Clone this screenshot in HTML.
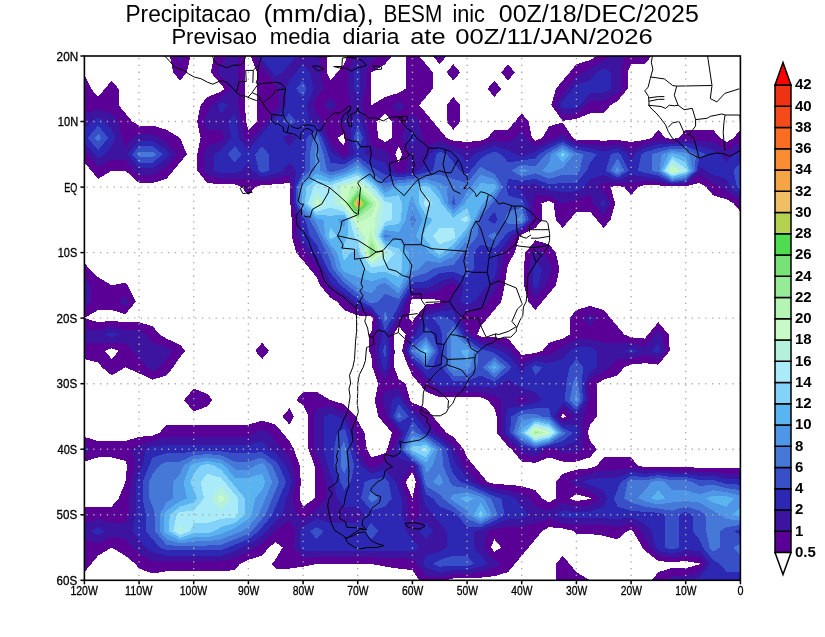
<!DOCTYPE html>
<html><head><meta charset="utf-8"><title>Precipitacao BESM</title>
<style>
html,body{margin:0;padding:0;background:#fff;}
body{width:825px;height:637px;overflow:hidden;}
svg{display:block;}
text{font-family:"Liberation Sans",Arial,sans-serif;}
</style></head><body>
<svg width="825" height="637" viewBox="0 0 825 637">
<rect x="0" y="0" width="825" height="637" fill="#fff"/>

<text x="125.40" y="21.50" font-size="23.55" textLength="125.20" lengthAdjust="spacingAndGlyphs">Precipitacao</text>
<text x="263.40" y="21.50" font-size="23.55" textLength="110.40" lengthAdjust="spacingAndGlyphs">(mm/dia),</text>
<text x="383.40" y="21.50" font-size="23.55" textLength="58.80" lengthAdjust="spacingAndGlyphs">BESM</text>
<text x="452.40" y="21.50" font-size="23.55" textLength="32.60" lengthAdjust="spacingAndGlyphs">inic</text>
<text x="498.80" y="21.50" font-size="23.55" textLength="200.00" lengthAdjust="spacingAndGlyphs">00Z/18/DEC/2025</text>
<text x="171.40" y="43.60" font-size="22.53" textLength="85.60" lengthAdjust="spacingAndGlyphs">Previsao</text>
<text x="269.80" y="43.60" font-size="22.53" textLength="60.20" lengthAdjust="spacingAndGlyphs">media</text>
<text x="342.60" y="43.60" font-size="22.53" textLength="56.80" lengthAdjust="spacingAndGlyphs">diaria</text>
<text x="410.20" y="43.60" font-size="22.53" textLength="35.40" lengthAdjust="spacingAndGlyphs">ate</text>
<text x="455.20" y="43.60" font-size="22.53" textLength="197.60" lengthAdjust="spacingAndGlyphs">00Z/11/JAN/2026</text>
<text x="70.40" y="595.10" font-size="12.21" stroke="#000" stroke-width="0.3" textLength="27.40" lengthAdjust="spacingAndGlyphs">120W</text>
<text x="125.07" y="595.10" font-size="12.21" stroke="#000" stroke-width="0.3" textLength="27.40" lengthAdjust="spacingAndGlyphs">110W</text>
<text x="179.73" y="595.10" font-size="12.21" stroke="#000" stroke-width="0.3" textLength="27.40" lengthAdjust="spacingAndGlyphs">100W</text>
<text x="238.00" y="595.10" font-size="12.21" stroke="#000" stroke-width="0.3" textLength="21.20" lengthAdjust="spacingAndGlyphs">90W</text>
<text x="292.67" y="595.10" font-size="12.21" stroke="#000" stroke-width="0.3" textLength="21.20" lengthAdjust="spacingAndGlyphs">80W</text>
<text x="347.33" y="595.10" font-size="12.21" stroke="#000" stroke-width="0.3" textLength="21.20" lengthAdjust="spacingAndGlyphs">70W</text>
<text x="402.00" y="595.10" font-size="12.21" stroke="#000" stroke-width="0.3" textLength="21.20" lengthAdjust="spacingAndGlyphs">60W</text>
<text x="456.67" y="595.10" font-size="12.21" stroke="#000" stroke-width="0.3" textLength="21.20" lengthAdjust="spacingAndGlyphs">50W</text>
<text x="511.33" y="595.10" font-size="12.21" stroke="#000" stroke-width="0.3" textLength="21.20" lengthAdjust="spacingAndGlyphs">40W</text>
<text x="566.00" y="595.10" font-size="12.21" stroke="#000" stroke-width="0.3" textLength="21.20" lengthAdjust="spacingAndGlyphs">30W</text>
<text x="620.67" y="595.10" font-size="12.21" stroke="#000" stroke-width="0.3" textLength="21.20" lengthAdjust="spacingAndGlyphs">20W</text>
<text x="675.33" y="595.10" font-size="12.21" stroke="#000" stroke-width="0.3" textLength="21.20" lengthAdjust="spacingAndGlyphs">10W</text>
<text x="737.60" y="595.10" font-size="12.21" stroke="#000" stroke-width="0.3" textLength="6.00" lengthAdjust="spacingAndGlyphs">0</text>
<text x="56.60" y="60.55" font-size="12.06" stroke="#000" stroke-width="0.3" textLength="21.60" lengthAdjust="spacingAndGlyphs">20N</text>
<text x="57.80" y="126.09" font-size="12.06" stroke="#000" stroke-width="0.3" textLength="20.40" lengthAdjust="spacingAndGlyphs">10N</text>
<text x="64.20" y="191.62" font-size="12.06" stroke="#000" stroke-width="0.3" textLength="13.00" lengthAdjust="spacingAndGlyphs">EQ</text>
<text x="57.80" y="257.16" font-size="12.06" stroke="#000" stroke-width="0.3" textLength="19.40" lengthAdjust="spacingAndGlyphs">10S</text>
<text x="56.60" y="322.70" font-size="12.06" stroke="#000" stroke-width="0.3" textLength="20.60" lengthAdjust="spacingAndGlyphs">20S</text>
<text x="56.60" y="388.24" font-size="12.06" stroke="#000" stroke-width="0.3" textLength="20.60" lengthAdjust="spacingAndGlyphs">30S</text>
<text x="57.60" y="453.77" font-size="12.06" stroke="#000" stroke-width="0.3" textLength="19.60" lengthAdjust="spacingAndGlyphs">40S</text>
<text x="56.60" y="519.31" font-size="12.06" stroke="#000" stroke-width="0.3" textLength="20.60" lengthAdjust="spacingAndGlyphs">50S</text>
<text x="56.60" y="584.85" font-size="12.06" stroke="#000" stroke-width="0.3" textLength="20.60" lengthAdjust="spacingAndGlyphs">60S</text>
<defs><clipPath id="mc"><rect x="84.4" y="56.0" width="656.0" height="524.3"/></clipPath></defs>
<g clip-path="url(#mc)" shape-rendering="crispEdges">
<path fill="#5a0096" d="M180.1 64.2L183.5 56.0L190.3 56.0L186.9 72.4L180.1 80.6L173.2 72.4L169.8 56.0L176.7 56.0ZM221.1 56.0L227.9 56.0L221.1 64.2L217.7 72.4L221.1 76.5L231.3 88.8L221.1 97.0L210.8 105.2L207.4 113.3L204.0 121.5L207.4 129.7L221.1 129.7L224.5 137.9L221.1 142.0L207.4 146.1L204.0 154.3L204.0 170.7L207.4 174.8L221.1 178.9L234.7 178.9L248.4 178.9L262.1 180.9L275.7 178.9L289.4 174.8L292.3 187.1L292.3 203.5L296.2 219.8L296.2 236.2L303.1 248.5L306.5 252.6L316.7 264.9L319.0 269.0L327.0 285.4L330.4 289.5L344.1 299.0L347.5 301.8L357.7 310.0L371.4 313.2L375.5 318.1L376.5 334.5L375.0 350.9L377.5 367.3L385.1 379.6L390.5 367.3L391.9 350.9L390.2 334.5L398.7 320.9L402.1 318.1L407.3 301.8L412.4 293.6L426.1 293.6L439.7 290.2L446.6 285.4L453.4 282.7L456.8 285.4L453.4 293.6L449.4 301.8L439.7 307.1L426.1 310.0L419.2 318.1L412.4 330.4L410.1 334.5L404.4 350.9L412.4 365.3L414.7 367.3L426.1 381.0L429.5 383.7L439.7 391.9L453.4 391.9L467.1 391.9L480.7 391.9L494.4 396.0L501.2 400.1L501.2 416.5L501.2 432.8L508.1 441.0L518.3 449.2L521.7 453.3L535.4 457.4L545.7 449.2L549.1 448.4L555.9 449.2L562.7 453.3L576.4 453.3L583.2 449.2L583.2 432.8L583.2 416.5L588.7 400.1L588.4 383.7L590.1 379.6L603.7 371.4L610.6 367.3L617.4 359.1L631.1 359.1L644.7 355.0L658.4 359.1L665.2 350.9L661.8 334.5L658.4 330.4L655.0 334.5L644.7 346.8L631.1 342.7L617.4 342.7L603.7 342.7L590.1 338.6L576.4 338.6L562.7 346.8L555.9 350.9L549.1 355.0L535.4 357.1L521.7 363.2L511.5 350.9L508.1 346.8L494.4 342.7L480.7 340.7L470.5 334.5L467.1 329.1L461.6 318.1L467.1 311.6L480.7 310.0L487.6 301.8L494.4 293.6L497.8 285.4L502.0 269.0L504.7 252.6L508.1 248.5L514.9 236.2L521.7 232.1L534.0 219.8L532.8 203.5L535.4 194.5L549.1 195.3L562.7 203.5L576.4 199.4L590.1 195.3L593.5 203.5L603.7 215.7L610.6 203.5L603.7 191.2L596.9 187.1L603.7 183.0L617.4 183.0L631.1 183.0L644.7 180.9L658.4 182.2L672.1 185.0L685.7 184.3L699.4 174.8L713.1 183.0L719.9 187.1L726.7 191.2L740.4 200.7L740.4 203.5L740.4 211.7L733.6 203.5L726.7 199.4L713.1 195.3L706.2 187.1L699.4 183.0L685.7 186.2L672.1 186.4L658.4 185.4L644.7 185.0L637.9 187.1L631.1 195.3L624.2 187.1L617.4 185.7L610.6 187.1L615.1 203.5L610.6 219.8L603.7 228.0L596.9 219.8L590.1 211.7L576.4 211.7L569.6 219.8L562.7 228.0L555.9 219.8L553.6 203.5L549.1 200.7L541.5 203.5L542.2 219.8L535.4 228.0L521.7 234.9L519.5 236.2L514.9 252.6L508.1 264.3L507.1 269.0L504.7 285.4L501.2 301.8L494.4 310.0L487.6 318.1L480.7 326.3L477.3 334.5L480.7 336.6L494.4 337.3L508.1 338.6L518.3 350.9L521.7 355.0L535.4 353.0L542.2 350.9L549.1 342.7L562.7 338.6L569.6 334.5L569.6 318.1L576.4 310.0L590.1 305.9L603.7 310.0L610.6 318.1L617.4 326.3L624.2 334.5L631.1 337.3L644.7 338.6L648.1 334.5L658.4 322.2L668.6 334.5L669.8 350.9L658.4 364.6L644.7 363.2L631.1 364.6L624.2 367.3L617.4 375.5L603.7 379.6L596.9 383.7L596.9 400.1L596.9 416.5L590.1 424.6L587.8 432.8L590.1 441.0L596.9 449.2L590.1 457.4L576.4 461.5L562.7 461.5L549.1 457.4L535.4 462.9L521.7 461.5L511.5 449.2L508.1 446.5L496.7 432.8L496.7 416.5L494.4 408.3L487.6 400.1L480.7 397.3L467.1 397.3L453.4 397.3L439.7 397.3L426.1 391.9L419.2 383.7L412.4 375.5L408.6 367.3L402.1 350.9L405.6 334.5L398.7 326.3L393.6 334.5L394.6 350.9L394.1 367.3L398.7 379.1L405.6 383.7L410.1 400.1L412.4 402.8L426.1 408.3L432.9 416.5L439.7 424.6L446.6 432.8L453.4 436.9L463.7 449.2L467.1 457.4L473.9 465.6L480.7 473.8L487.6 482.0L494.4 484.0L508.1 484.7L521.7 486.1L535.4 490.2L542.2 498.4L549.1 502.5L555.9 498.4L555.9 482.0L562.7 473.8L576.4 469.7L590.1 468.3L596.9 465.6L603.7 457.4L617.4 457.4L631.1 457.4L637.9 465.6L644.7 467.2L658.4 467.0L672.1 467.2L685.7 467.2L699.4 467.7L713.1 467.7L726.7 468.3L740.4 468.3L740.4 473.8L726.7 473.8L713.1 471.8L699.4 471.8L685.7 470.5L672.1 470.5L658.4 469.7L644.7 470.5L631.1 467.7L617.4 469.7L603.7 469.7L590.1 473.8L576.4 477.9L569.6 482.0L576.4 486.1L590.1 491.4L599.5 498.4L590.1 505.3L576.4 506.6L562.7 502.5L549.1 510.7L535.4 506.6L528.6 498.4L521.7 494.3L508.1 490.2L494.4 488.1L480.7 483.6L477.3 482.0L467.1 469.7L463.7 465.6L456.8 449.2L453.4 445.1L439.7 434.9L436.3 432.8L426.1 420.6L422.7 416.5L412.4 408.3L405.6 400.1L398.7 387.8L385.1 391.9L381.7 400.1L385.1 408.3L386.8 416.5L398.7 430.8L400.4 432.8L398.7 436.9L391.9 449.2L385.1 461.5L378.2 465.6L371.4 468.3L368.0 465.6L357.7 449.2L357.7 449.2L355.5 432.8L348.1 416.5L344.1 412.4L330.4 406.6L316.7 408.3L314.0 416.5L313.8 432.8L314.0 449.2L316.7 455.1L321.9 465.6L325.5 482.0L325.5 498.4L316.7 508.9L309.9 514.8L303.1 518.9L296.2 514.8L292.8 498.4L296.2 482.0L292.8 465.6L289.4 457.4L282.6 449.2L275.7 441.0L268.9 432.8L262.1 428.7L255.2 432.8L248.4 436.9L234.7 436.9L221.1 436.9L207.4 436.9L193.7 436.9L180.1 436.9L166.4 436.9L152.7 441.0L139.1 445.1L132.2 449.2L135.0 465.6L130.9 482.0L128.8 498.4L128.8 514.8L125.4 523.0L111.7 523.0L98.1 518.9L84.4 523.0L84.4 514.8L84.4 506.6L98.1 506.6L111.7 506.6L118.6 498.4L125.4 482.0L125.4 482.0L127.0 465.6L125.4 460.9L111.7 457.4L98.1 457.4L84.4 461.5L84.4 453.3L91.2 449.2L84.4 445.1L84.4 436.9L98.1 441.0L111.7 441.0L125.4 441.0L139.1 436.9L152.7 435.6L159.6 432.8L166.4 424.6L180.1 424.6L193.7 424.6L207.4 424.6L221.1 424.6L234.7 424.6L248.4 424.6L262.1 420.6L275.7 424.6L282.6 432.8L289.4 441.0L294.0 449.2L299.6 465.6L300.8 482.0L299.6 498.4L303.1 506.6L314.5 498.4L314.5 482.0L314.5 465.6L308.5 449.2L307.8 432.8L308.5 416.5L303.1 405.5L296.2 400.1L303.1 391.9L316.7 391.9L330.4 400.1L330.4 400.1L344.1 404.2L356.1 416.5L357.7 421.1L364.6 432.8L366.8 449.2L371.4 457.4L385.1 453.3L387.3 449.2L391.9 432.8L385.1 424.6L378.2 416.5L374.8 400.1L378.2 383.7L372.4 367.3L371.4 356.4L369.1 350.9L369.1 334.5L371.4 331.8L372.8 318.1L371.4 316.5L357.7 315.4L344.1 310.0L337.2 301.8L330.4 297.7L320.1 285.4L316.7 277.2L309.9 269.0L303.1 260.8L296.2 252.6L291.7 236.2L291.7 219.8L290.4 203.5L290.4 187.1L289.4 183.0L275.7 184.3L262.1 185.0L255.2 187.1L248.4 195.3L241.6 187.1L234.7 184.3L221.1 184.3L207.4 183.0L197.2 170.7L197.2 154.3L200.6 137.9L197.2 121.5L200.6 105.2L207.4 97.0L221.1 91.5L224.5 88.8L221.1 84.7L210.8 72.4L214.2 56.0ZM410.7 301.8L409.0 318.1L412.4 322.2L414.7 318.1L426.1 304.5L439.7 302.7L441.3 301.8L439.7 299.8L426.1 299.0L412.4 299.0ZM467.1 318.1L467.1 318.1L467.1 318.1L467.1 318.1ZM583.2 318.1L590.1 326.3L596.9 318.1L590.1 314.1ZM569.6 498.4L576.4 501.1L590.1 499.0L590.9 498.4L590.1 497.7L576.4 494.3ZM245.0 72.4L245.0 88.8L245.0 105.2L246.1 121.5L248.4 129.7L256.9 121.5L256.9 105.2L256.9 88.8L256.9 72.4L250.7 56.0L255.2 56.0L262.1 67.2L266.4 72.4L275.7 84.7L279.1 88.8L279.1 105.2L275.7 109.2L266.4 121.5L262.1 126.8L251.8 137.9L248.4 142.0L245.0 137.9L241.6 121.5L238.2 105.2L238.2 88.8L238.2 72.4L238.2 56.0L245.0 56.0ZM327.0 72.4L330.4 80.6L337.2 72.4L344.1 64.2L347.5 56.0L354.3 56.0L347.5 72.4L347.5 88.8L350.9 105.2L344.1 113.3L338.4 121.5L344.1 125.6L348.2 137.9L347.5 154.3L344.1 156.4L340.7 154.3L330.4 142.0L328.7 137.9L322.4 121.5L316.7 113.3L313.3 105.2L316.7 97.0L323.6 88.8L320.1 72.4L320.1 56.0L327.0 56.0ZM323.6 105.2L330.4 112.0L337.2 105.2L330.4 97.0ZM337.2 137.9L344.1 146.1L345.4 137.9L344.1 133.8ZM371.4 61.5L378.2 56.0L385.1 56.0L391.9 56.0L385.1 64.2L371.4 72.4L371.4 72.4L370.9 88.8L371.4 105.2L371.4 105.2L371.4 105.2L385.1 97.0L398.7 92.9L405.6 88.8L405.6 72.4L405.6 56.0L412.4 56.0L419.2 56.0L426.1 64.2L432.9 72.4L432.9 88.8L426.1 97.0L419.2 105.2L426.1 113.3L432.9 121.5L439.7 129.7L446.6 137.9L453.4 140.7L467.1 142.0L480.7 140.7L487.6 137.9L494.4 129.7L508.1 129.7L514.9 121.5L521.7 113.3L528.6 121.5L532.0 137.9L535.4 140.7L542.2 137.9L549.1 126.2L562.7 122.6L573.0 137.9L576.4 139.6L590.1 140.0L603.7 140.7L617.4 140.0L631.1 142.0L644.7 140.0L651.6 137.9L658.4 129.7L665.2 137.9L672.1 139.1L678.9 137.9L685.7 129.7L699.4 129.7L713.1 129.7L719.9 137.9L726.7 142.0L733.6 137.9L740.4 129.7L740.4 137.9L740.4 142.0L726.7 150.2L713.1 142.0L699.4 140.7L685.7 139.6L672.1 141.4L658.4 140.0L644.7 144.1L631.1 150.2L617.4 144.1L603.7 146.1L590.1 144.1L576.4 142.8L566.1 137.9L562.7 132.8L555.9 137.9L549.1 140.0L535.4 146.1L525.1 137.9L521.7 129.7L514.9 137.9L508.1 142.0L494.4 140.7L480.7 146.1L467.1 150.2L453.4 146.1L439.7 140.7L426.1 146.1L422.7 137.9L419.2 121.5L412.4 113.3L405.6 121.5L402.1 137.9L409.0 154.3L405.6 170.7L398.7 172.1L395.3 170.7L388.5 154.3L385.1 150.2L371.4 146.1L369.7 137.9L367.1 121.5L362.3 105.2L365.6 88.8L365.9 72.4ZM391.9 105.2L398.7 113.3L405.6 105.2L398.7 101.1ZM376.5 121.5L378.2 137.9L385.1 142.0L391.9 137.9L391.9 121.5L385.1 113.3ZM395.3 154.3L398.7 162.5L402.1 154.3L398.7 146.1ZM439.7 56.0L446.6 56.0L439.7 64.2L432.9 56.0ZM453.4 64.2L460.2 72.4L453.4 80.6L446.6 72.4ZM508.1 64.2L514.9 72.4L508.1 80.6L501.2 72.4ZM576.4 64.2L590.1 60.1L596.9 56.0L603.7 56.0L610.6 56.0L603.7 60.1L590.1 68.3L583.2 72.4L576.4 76.5L566.1 88.8L562.7 92.9L555.9 105.2L562.7 114.6L576.4 113.3L586.7 105.2L590.1 101.1L603.7 101.1L617.4 92.9L620.8 88.8L620.8 72.4L624.2 56.0L631.1 56.0L644.7 56.0L651.6 56.0L644.7 64.2L631.1 64.2L627.6 72.4L627.6 88.8L617.4 101.1L610.6 105.2L603.7 113.3L590.1 113.3L576.4 118.8L562.7 120.9L551.3 105.2L555.9 88.8L562.7 80.6L569.6 72.4ZM91.2 88.8L98.1 97.0L104.9 88.8L111.7 80.6L118.6 88.8L118.6 105.2L125.4 113.3L132.2 121.5L139.1 125.6L152.7 125.6L166.4 129.7L180.1 137.9L180.1 137.9L186.9 154.3L180.1 162.5L173.2 170.7L166.4 178.9L152.7 183.0L139.1 183.0L125.4 170.7L125.4 170.7L111.7 170.7L111.7 170.7L98.1 178.9L91.2 170.7L84.4 162.5L84.4 154.3L84.4 150.2L87.8 154.3L98.1 166.6L111.7 159.8L125.4 159.8L134.5 170.7L139.1 174.8L152.7 174.8L159.6 170.7L166.4 166.6L176.7 154.3L166.4 142.0L159.6 137.9L152.7 133.8L139.1 133.8L132.2 137.9L125.4 146.1L122.0 137.9L118.6 121.5L111.7 113.3L98.1 109.2L84.4 113.3L84.4 105.2L84.4 88.8L84.4 75.1ZM494.4 80.6L501.2 88.8L494.4 97.0L487.6 88.8ZM453.4 97.0L460.2 105.2L460.2 121.5L453.4 129.7L446.6 121.5L446.6 105.2ZM535.4 240.3L549.1 244.4L555.9 252.6L559.3 269.0L555.9 285.4L549.1 293.6L542.2 301.8L535.4 310.0L528.6 301.8L524.0 285.4L524.0 269.0L525.1 252.6ZM532.0 252.6L528.6 269.0L528.6 285.4L535.4 297.7L545.7 285.4L549.1 277.2L552.5 269.0L549.1 260.8L542.2 252.6L535.4 248.5ZM89.5 269.0L98.1 277.2L111.7 285.4L111.7 285.4L111.7 285.4L125.4 282.7L127.7 285.4L135.7 301.8L125.4 314.1L111.7 310.0L98.1 310.0L84.4 318.1L84.4 307.2L91.2 301.8L91.2 285.4L84.4 278.6L84.4 269.0L84.4 262.9ZM118.6 301.8L125.4 305.9L128.8 301.8L125.4 295.9ZM98.1 322.2L111.7 320.9L125.4 322.2L139.1 322.2L152.7 326.3L159.6 334.5L166.4 338.6L180.1 344.8L185.2 350.9L180.1 357.1L173.2 367.3L166.4 375.5L152.7 379.6L139.1 373.4L125.4 367.3L125.4 367.3L125.4 367.3L111.7 375.5L102.0 367.3L98.1 362.6L84.4 359.1L84.4 350.9L84.4 342.7L98.1 342.7L111.7 342.7L125.4 342.7L132.2 350.9L139.1 357.7L147.0 367.3L152.7 371.4L159.6 367.3L166.4 359.1L172.1 350.9L166.4 346.8L152.7 342.7L145.9 334.5L139.1 330.4L125.4 330.4L111.7 326.3L98.1 330.4L84.4 329.1L84.4 318.1ZM104.9 350.9L111.7 359.1L118.6 350.9L111.7 348.2ZM262.1 342.7L268.9 350.9L262.1 359.1L255.2 350.9ZM193.7 388.5L207.4 393.9L212.5 400.1L207.4 406.2L193.7 411.6L184.1 400.1ZM192.1 400.1L193.7 402.0L196.8 400.1L193.7 398.1ZM521.7 396.0L528.6 400.1L521.7 402.1L514.9 400.1ZM289.4 408.3L294.0 416.5L289.4 424.6L282.6 416.5ZM562.7 408.3L573.0 416.5L562.7 421.4L557.6 416.5ZM561.0 416.5L562.7 418.1L566.1 416.5L562.7 413.7ZM412.4 465.6L412.4 465.6L418.1 482.0L417.9 498.4L419.2 514.8L412.4 523.0L409.0 514.8L406.9 498.4L401.0 482.0L412.4 465.6ZM405.6 482.0L412.4 498.4L412.4 498.4L412.4 498.4L415.8 482.0L412.4 472.2ZM275.7 531.1L289.4 520.2L294.9 531.1L292.8 547.5L303.1 557.8L316.7 557.4L330.4 557.4L344.1 557.4L357.7 557.4L371.4 557.4L385.1 557.8L398.7 558.2L412.4 558.7L416.7 563.9L426.1 576.2L439.7 577.6L453.4 574.2L467.1 574.2L480.7 572.1L494.4 568.0L501.2 563.9L494.4 559.8L484.1 547.5L487.6 531.1L494.4 529.1L508.1 527.1L521.7 527.1L535.4 523.0L549.1 518.9L562.7 523.0L576.4 525.0L590.1 525.0L603.7 525.4L617.4 527.1L631.1 523.9L640.7 531.1L644.7 537.0L649.9 547.5L658.4 555.7L672.1 557.8L685.7 555.7L699.4 557.0L705.2 563.9L699.4 570.8L685.7 576.2L672.1 576.2L665.2 580.3L658.4 580.3L651.6 580.3L658.4 572.1L672.1 568.0L685.7 568.0L699.4 564.5L699.9 563.9L699.4 563.3L685.7 561.2L672.1 561.9L658.4 561.2L644.7 550.3L642.5 547.5L632.7 531.1L631.1 529.9L627.2 531.1L617.4 539.3L603.7 535.8L590.1 533.9L576.4 533.9L574.1 531.1L562.7 528.4L549.1 527.1L542.2 531.1L535.4 539.3L528.6 547.5L521.7 555.7L514.9 563.9L508.1 572.1L494.4 576.2L480.7 577.6L467.1 578.3L453.4 578.3L446.6 580.3L439.7 580.3L426.1 580.3L419.2 580.3L412.4 570.1L398.7 568.6L385.1 566.6L371.4 563.9L371.4 563.9L357.7 563.9L344.1 563.9L330.4 563.9L316.7 563.9L316.7 563.9L303.1 566.6L289.4 568.6L275.7 568.6L271.8 563.9L275.7 559.2L282.6 547.5L275.7 542.1L268.9 547.5L262.1 555.7L248.4 559.8L239.9 563.9L234.7 570.1L221.1 571.2L207.4 571.2L193.7 571.2L180.1 571.2L166.4 571.2L152.7 573.5L139.1 568.6L135.2 563.9L125.4 555.7L111.7 547.5L111.7 547.5L111.7 547.5L98.1 555.7L91.2 563.9L84.4 572.1L84.4 563.9L84.4 547.5L84.4 539.3L98.1 543.4L111.7 536.6L125.4 539.3L132.2 547.5L139.1 553.8L152.7 561.2L166.4 560.7L180.1 560.7L193.7 560.7L207.4 560.7L221.1 560.7L234.7 558.7L248.4 551.6L255.2 547.5L262.1 543.4L275.7 531.1ZM289.4 531.1L289.4 531.1L289.4 531.1L289.4 531.1ZM491.0 547.5L494.4 551.6L501.2 547.5L494.4 539.3ZM562.7 555.7L569.6 563.9L576.4 572.1L590.1 580.3L576.4 580.3L562.7 580.3L555.9 580.3L555.9 563.9Z"/>
<path fill="#3c14a0" d="M180.1 56.0L183.5 56.0L180.1 64.2L176.7 56.0ZM221.1 64.2L227.9 56.0L234.7 56.0L238.2 56.0L238.2 72.4L238.2 88.8L238.2 105.2L241.6 121.5L245.0 137.9L248.4 142.0L251.8 137.9L262.1 126.8L266.4 121.5L275.7 109.2L279.1 105.2L279.1 88.8L275.7 84.7L266.4 72.4L262.1 67.2L255.2 56.0L259.8 56.0L262.1 59.7L272.6 72.4L275.7 76.5L282.6 72.4L289.4 64.2L296.2 56.0L303.1 56.0L316.7 56.0L320.1 56.0L320.1 72.4L323.6 88.8L316.7 97.0L313.3 105.2L316.7 113.3L322.4 121.5L328.7 137.9L330.4 142.0L340.7 154.3L344.1 156.4L347.5 154.3L348.2 137.9L344.1 125.6L338.4 121.5L344.1 113.3L350.9 105.2L347.5 88.8L347.5 72.4L354.3 56.0L357.7 56.0L371.4 56.0L378.2 56.0L371.4 61.5L365.9 72.4L365.6 88.8L362.3 105.2L367.1 121.5L369.7 137.9L371.4 146.1L385.1 150.2L388.5 154.3L395.3 170.7L398.7 172.1L405.6 170.7L409.0 154.3L402.1 137.9L405.6 121.5L412.4 113.3L419.2 121.5L422.7 137.9L426.1 146.1L439.7 140.7L453.4 146.1L467.1 150.2L480.7 146.1L494.4 140.7L508.1 142.0L514.9 137.9L521.7 129.7L525.1 137.9L535.4 146.1L549.1 140.0L555.9 137.9L562.7 132.8L566.1 137.9L576.4 142.8L590.1 144.1L603.7 146.1L617.4 144.1L631.1 150.2L644.7 144.1L658.4 140.0L672.1 141.4L685.7 139.6L699.4 140.7L713.1 142.0L726.7 150.2L740.4 142.0L740.4 150.2L733.6 154.3L726.7 162.5L719.9 154.3L713.1 150.2L699.4 146.1L685.7 142.8L672.1 143.8L658.4 144.1L644.7 148.2L634.5 154.3L631.1 162.5L627.6 154.3L617.4 148.2L603.7 151.6L590.1 148.2L576.4 146.1L562.7 139.3L549.1 144.1L535.4 151.6L528.6 154.3L521.7 156.4L514.9 154.3L508.1 150.2L494.4 146.1L480.7 151.6L473.9 154.3L467.1 162.5L460.2 154.3L453.4 151.6L439.7 146.1L429.5 154.3L426.1 162.5L419.2 170.7L412.4 172.3L398.7 174.8L388.5 170.7L385.1 162.5L371.4 158.4L364.6 154.3L366.3 137.9L360.8 121.5L357.7 113.3L350.9 121.5L350.9 137.9L354.3 154.3L344.1 160.5L333.8 154.3L330.4 150.2L325.3 137.9L316.7 124.3L309.9 121.5L306.5 105.2L313.3 88.8L309.9 72.4L303.1 64.2L296.2 72.4L289.4 80.6L286.0 88.8L286.0 105.2L275.7 117.4L272.6 121.5L262.1 134.2L258.7 137.9L248.4 150.2L238.2 137.9L237.0 121.5L234.7 113.3L227.9 121.5L231.3 137.9L221.1 150.2L214.2 154.3L214.2 170.7L221.1 173.4L234.7 173.4L241.6 170.7L248.4 162.5L251.8 170.7L262.1 176.8L275.7 173.4L282.6 170.7L289.4 162.5L296.2 170.7L294.3 187.1L294.3 203.5L300.8 219.8L300.8 236.2L303.1 240.3L313.3 252.6L316.7 256.7L323.6 269.0L330.4 281.3L333.8 285.4L344.1 293.6L354.3 301.8L357.7 304.5L371.4 310.0L378.2 318.1L382.2 334.5L379.0 350.9L382.5 367.3L385.1 371.4L386.9 367.3L389.2 350.9L386.8 334.5L396.5 318.1L398.7 314.1L403.9 301.8L412.4 288.1L426.1 288.1L432.9 285.4L439.7 281.3L453.4 277.2L463.7 285.4L460.2 301.8L467.1 305.0L473.9 301.8L480.7 293.6L487.6 285.4L494.4 277.2L496.9 269.0L497.8 252.6L508.1 240.3L510.3 236.2L521.7 229.4L531.3 219.8L528.3 203.5L521.7 191.2L514.9 187.1L521.7 185.0L535.4 184.3L542.2 187.1L549.1 189.8L562.7 192.5L576.4 191.2L583.2 187.1L590.1 178.9L603.7 174.8L617.4 180.2L631.1 174.8L644.7 176.8L658.4 178.9L672.1 183.7L685.7 182.5L698.4 170.7L699.4 166.6L706.2 170.7L713.1 174.8L726.7 178.9L730.1 187.1L740.4 195.3L740.4 200.7L726.7 191.2L719.9 187.1L713.1 183.0L699.4 174.8L685.7 184.3L672.1 185.0L658.4 182.2L644.7 180.9L631.1 183.0L617.4 183.0L603.7 183.0L596.9 187.1L603.7 191.2L610.6 203.5L603.7 215.7L593.5 203.5L590.1 195.3L576.4 199.4L562.7 203.5L549.1 195.3L535.4 194.5L532.8 203.5L534.0 219.8L521.7 232.1L514.9 236.2L508.1 248.5L504.7 252.6L502.0 269.0L497.8 285.4L494.4 293.6L487.6 301.8L480.7 310.0L467.1 311.6L461.6 318.1L467.1 329.1L470.5 334.5L480.7 340.7L494.4 342.7L508.1 346.8L511.5 350.9L521.7 363.2L535.4 357.1L549.1 355.0L555.9 350.9L562.7 346.8L576.4 338.6L590.1 338.6L603.7 342.7L617.4 342.7L631.1 342.7L644.7 346.8L655.0 334.5L658.4 330.4L661.8 334.5L665.2 350.9L658.4 359.1L644.7 355.0L631.1 359.1L617.4 359.1L610.6 367.3L603.7 371.4L590.1 379.6L588.4 383.7L588.7 400.1L583.2 416.5L583.2 432.8L583.2 449.2L576.4 453.3L562.7 453.3L555.9 449.2L549.1 448.4L545.7 449.2L535.4 457.4L521.7 453.3L518.3 449.2L508.1 441.0L501.2 432.8L501.2 416.5L501.2 400.1L494.4 396.0L480.7 391.9L467.1 391.9L453.4 391.9L439.7 391.9L429.5 383.7L426.1 381.0L414.7 367.3L412.4 365.3L404.4 350.9L410.1 334.5L412.4 330.4L419.2 318.1L426.1 310.0L439.7 307.1L449.4 301.8L453.4 293.6L456.8 285.4L453.4 282.7L446.6 285.4L439.7 290.2L426.1 293.6L412.4 293.6L407.3 301.8L402.1 318.1L398.7 320.9L390.2 334.5L391.9 350.9L390.5 367.3L385.1 379.6L377.5 367.3L375.0 350.9L376.5 334.5L375.5 318.1L371.4 313.2L357.7 310.0L347.5 301.8L344.1 299.0L330.4 289.5L327.0 285.4L319.0 269.0L316.7 264.9L306.5 252.6L303.1 248.5L296.2 236.2L296.2 219.8L292.3 203.5L292.3 187.1L289.4 174.8L275.7 178.9L262.1 180.9L248.4 178.9L234.7 178.9L221.1 178.9L207.4 174.8L204.0 170.7L204.0 154.3L207.4 146.1L221.1 142.0L224.5 137.9L221.1 129.7L207.4 129.7L204.0 121.5L207.4 113.3L210.8 105.2L221.1 97.0L231.3 88.8L221.1 76.5L217.7 72.4ZM354.3 72.4L354.3 88.8L357.7 97.0L360.4 88.8L360.5 72.4L357.7 64.2ZM217.7 105.2L221.1 113.3L227.9 105.2L221.1 102.4ZM409.0 137.9L412.4 146.1L415.8 137.9L412.4 129.7ZM600.3 203.5L603.7 207.6L606.0 203.5L603.7 199.4ZM423.8 318.1L415.8 334.5L412.4 337.3L406.7 350.9L412.4 361.2L419.2 367.3L426.1 375.5L436.3 383.7L439.7 386.4L453.4 386.4L467.1 386.4L480.7 386.4L494.4 387.8L501.2 383.7L508.1 379.6L514.9 383.7L521.7 387.8L535.4 391.9L542.2 400.1L535.4 402.8L521.7 406.2L508.1 408.3L505.8 416.5L505.8 432.8L508.1 435.6L521.7 447.6L528.6 449.2L535.4 452.0L538.8 449.2L549.1 446.8L562.7 446.5L576.4 441.0L578.7 432.8L576.4 424.6L562.7 424.6L554.2 416.5L562.7 402.8L576.4 414.4L586.0 400.1L584.9 383.7L590.1 371.4L596.9 367.3L596.9 350.9L590.1 346.8L576.4 346.8L569.6 350.9L562.7 359.1L549.1 363.2L535.4 361.2L525.1 367.3L521.7 375.5L518.3 367.3L508.1 355.0L501.2 350.9L494.4 348.2L480.7 344.8L467.1 336.2L465.4 334.5L456.1 318.1L453.4 310.0L439.7 311.5L426.1 315.4ZM624.2 350.9L631.1 353.6L637.9 350.9L631.1 348.2ZM651.6 350.9L658.4 353.6L660.7 350.9L658.4 342.7ZM514.9 400.1L521.7 402.1L528.6 400.1L521.7 396.0ZM557.6 416.5L562.7 421.4L573.0 416.5L562.7 408.3ZM590.1 68.3L603.7 60.1L610.6 56.0L617.4 56.0L624.2 56.0L620.8 72.4L620.8 88.8L617.4 92.9L603.7 101.1L590.1 101.1L586.7 105.2L576.4 113.3L562.7 114.6L555.9 105.2L562.7 92.9L566.1 88.8L576.4 76.5L583.2 72.4ZM596.9 72.4L590.1 80.6L576.4 84.7L573.0 88.8L562.7 101.1L560.5 105.2L562.7 108.3L576.4 107.9L579.8 105.2L590.1 92.9L603.7 92.9L610.6 88.8L610.6 72.4L603.7 68.3ZM330.4 97.0L337.2 105.2L330.4 112.0L323.6 105.2ZM398.7 101.1L405.6 105.2L398.7 113.3L391.9 105.2ZM98.1 109.2L111.7 113.3L118.6 121.5L122.0 137.9L125.4 146.1L132.2 137.9L139.1 133.8L152.7 133.8L159.6 137.9L166.4 142.0L176.7 154.3L166.4 166.6L159.6 170.7L152.7 174.8L139.1 174.8L134.5 170.7L125.4 159.8L111.7 159.8L98.1 166.6L87.8 154.3L84.4 150.2L84.4 142.0L94.7 154.3L98.1 158.4L104.9 154.3L111.7 146.1L115.2 137.9L111.7 129.7L104.9 121.5L98.1 117.4L91.2 121.5L84.4 129.7L84.4 121.5L84.4 113.3ZM127.7 154.3L139.1 168.0L152.7 168.0L166.4 158.4L169.8 154.3L166.4 150.2L152.7 140.7L139.1 140.7ZM289.4 133.8L296.2 137.9L289.4 146.1L282.6 137.9ZM535.4 248.5L542.2 252.6L549.1 260.8L552.5 269.0L549.1 277.2L545.7 285.4L535.4 297.7L528.6 285.4L528.6 269.0L532.0 252.6ZM533.1 269.0L533.1 285.4L535.4 289.5L538.8 285.4L542.2 269.0L535.4 260.8ZM91.2 285.4L91.2 301.8L84.4 307.2L84.4 301.8L84.4 285.4L84.4 278.6ZM125.4 295.9L128.8 301.8L125.4 305.9L118.6 301.8ZM590.1 314.1L596.9 318.1L590.1 326.3L583.2 318.1ZM98.1 330.4L111.7 326.3L125.4 330.4L139.1 330.4L145.9 334.5L152.7 342.7L166.4 346.8L172.1 350.9L166.4 359.1L159.6 367.3L152.7 371.4L147.0 367.3L139.1 357.7L132.2 350.9L125.4 342.7L111.7 342.7L98.1 342.7L84.4 342.7L84.4 334.5L84.4 329.1ZM104.9 334.5L111.7 337.3L118.6 334.5L111.7 331.8ZM193.7 398.1L196.8 400.1L193.7 402.0L192.1 400.1ZM385.1 391.9L398.7 387.8L405.6 400.1L412.4 408.3L422.7 416.5L426.1 420.6L436.3 432.8L439.7 434.9L453.4 445.1L456.8 449.2L463.7 465.6L467.1 469.7L477.3 482.0L480.7 483.6L494.4 488.1L508.1 490.2L521.7 494.3L528.6 498.4L535.4 506.6L549.1 510.7L562.7 502.5L576.4 506.6L590.1 505.3L599.5 498.4L590.1 491.4L576.4 486.1L569.6 482.0L576.4 477.9L590.1 473.8L603.7 469.7L617.4 469.7L631.1 467.7L644.7 470.5L658.4 469.7L672.1 470.5L685.7 470.5L699.4 471.8L713.1 471.8L726.7 473.8L740.4 473.8L740.4 479.3L726.7 479.3L713.1 475.8L699.4 475.8L685.7 473.8L672.1 473.8L658.4 472.4L644.7 473.8L631.1 471.8L617.4 477.9L603.7 477.9L590.1 479.3L583.2 482.0L590.1 485.1L603.7 490.2L607.1 498.4L603.7 506.6L590.1 511.6L576.4 512.0L562.7 510.7L555.9 514.8L562.7 517.5L576.4 518.2L590.1 518.2L603.7 518.3L617.4 518.9L631.1 517.8L644.7 523.0L651.6 531.1L655.6 547.5L658.4 550.3L672.1 553.7L685.7 550.3L699.4 550.7L710.4 563.9L699.4 577.1L692.6 580.3L685.7 580.3L672.1 580.3L665.2 580.3L672.1 576.2L685.7 576.2L699.4 570.8L705.2 563.9L699.4 557.0L685.7 555.7L672.1 557.8L658.4 555.7L649.9 547.5L644.7 537.0L640.7 531.1L631.1 523.9L617.4 527.1L603.7 525.4L590.1 525.0L576.4 525.0L562.7 523.0L549.1 518.9L535.4 523.0L521.7 527.1L508.1 527.1L494.4 529.1L487.6 531.1L484.1 547.5L494.4 559.8L501.2 563.9L494.4 568.0L480.7 572.1L467.1 574.2L453.4 574.2L439.7 577.6L426.1 576.2L416.7 563.9L412.4 558.7L398.7 558.2L385.1 557.8L371.4 557.4L357.7 557.4L344.1 557.4L330.4 557.4L316.7 557.4L303.1 557.8L292.8 547.5L294.9 531.1L289.4 520.2L275.7 531.1L275.7 531.1L262.1 543.4L255.2 547.5L248.4 551.6L234.7 558.7L221.1 560.7L207.4 560.7L193.7 560.7L180.1 560.7L166.4 560.7L152.7 561.2L139.1 553.8L132.2 547.5L125.4 539.3L111.7 536.6L98.1 543.4L84.4 539.3L84.4 531.1L84.4 523.0L98.1 518.9L111.7 523.0L125.4 523.0L128.8 514.8L128.8 498.4L130.9 482.0L135.0 465.6L132.2 449.2L139.1 445.1L152.7 441.0L166.4 436.9L180.1 436.9L193.7 436.9L207.4 436.9L221.1 436.9L234.7 436.9L248.4 436.9L255.2 432.8L262.1 428.7L268.9 432.8L275.7 441.0L282.6 449.2L289.4 457.4L292.8 465.6L296.2 482.0L292.8 498.4L296.2 514.8L303.1 518.9L309.9 514.8L316.7 508.9L325.5 498.4L325.5 482.0L321.9 465.6L316.7 455.1L314.0 449.2L313.8 432.8L314.0 416.5L316.7 408.3L330.4 406.6L344.1 412.4L348.1 416.5L355.5 432.8L357.7 449.2L357.7 449.2L368.0 465.6L371.4 468.3L378.2 465.6L385.1 461.5L391.9 449.2L398.7 436.9L400.4 432.8L398.7 430.8L386.8 416.5L385.1 408.3L381.7 400.1ZM391.9 400.1L390.2 416.5L398.7 426.7L403.9 432.8L398.7 445.1L396.5 449.2L398.7 457.4L412.4 463.1L415.4 465.6L420.4 482.0L423.3 498.4L426.1 506.6L432.9 514.8L439.7 523.0L446.6 531.1L446.6 547.5L439.7 551.6L426.1 555.7L423.0 563.9L426.1 568.0L439.7 572.1L453.4 570.1L467.1 570.1L480.7 566.6L487.6 563.9L480.7 555.7L473.9 547.5L473.9 531.1L480.7 529.8L494.4 525.0L508.1 518.9L521.7 518.9L528.6 514.8L521.7 506.6L514.9 498.4L508.1 495.6L494.4 492.2L480.7 486.9L470.5 482.0L467.1 477.9L456.8 465.6L453.4 457.4L451.1 449.2L439.7 439.0L429.5 432.8L426.1 428.7L415.8 416.5L412.4 413.7L401.0 400.1L398.7 396.0ZM323.6 416.5L323.6 432.8L323.6 449.2L327.6 465.6L330.4 473.8L333.8 482.0L337.2 498.4L344.1 506.6L357.7 506.6L364.6 514.8L357.7 523.0L344.1 523.0L330.4 523.0L316.7 518.9L303.1 527.1L300.3 531.1L299.6 547.5L303.1 550.9L316.7 550.8L330.4 550.8L344.1 550.8L357.7 550.8L371.4 550.8L385.1 550.9L398.7 551.1L412.4 551.3L419.2 547.5L412.4 539.3L405.6 531.1L402.1 514.8L401.5 498.4L398.7 490.2L395.3 482.0L385.1 469.7L371.4 473.8L361.1 465.6L357.7 460.1L353.8 449.2L350.9 432.8L344.1 420.6L337.2 416.5L330.4 413.2ZM145.9 449.2L142.5 465.6L139.1 473.8L136.3 482.0L135.7 498.4L135.7 514.8L132.2 531.1L139.1 539.3L145.9 547.5L152.7 552.1L166.4 555.5L180.1 555.5L193.7 555.5L207.4 555.5L221.1 555.5L234.7 551.3L241.6 547.5L248.4 544.8L262.1 535.2L266.6 531.1L275.7 520.2L282.6 514.8L286.0 498.4L289.4 490.2L291.7 482.0L289.4 473.8L286.0 465.6L275.7 453.3L268.9 449.2L262.1 441.0L248.4 445.1L234.7 445.1L221.1 445.1L207.4 445.1L193.7 445.1L180.1 445.1L166.4 445.1L152.7 446.5ZM412.4 465.6L401.0 482.0L406.9 498.4L409.0 514.8L412.4 523.0L419.2 514.8L417.9 498.4L418.1 482.0L412.4 465.6L412.4 465.6ZM91.2 531.1L98.1 535.2L104.9 531.1L98.1 527.1ZM419.2 531.1L426.1 539.3L432.9 531.1L426.1 523.0ZM91.2 449.2L84.4 453.3L84.4 449.2L84.4 445.1Z"/>
<path fill="#2d28b4" d="M262.1 56.0L275.7 56.0L289.4 56.0L296.2 56.0L289.4 64.2L282.6 72.4L275.7 76.5L272.6 72.4L262.1 59.7L259.8 56.0ZM303.1 64.2L309.9 72.4L313.3 88.8L306.5 105.2L309.9 121.5L316.7 124.3L325.3 137.9L330.4 150.2L333.8 154.3L344.1 160.5L354.3 154.3L350.9 137.9L350.9 121.5L357.7 113.3L360.8 121.5L366.3 137.9L364.6 154.3L371.4 158.4L385.1 162.5L388.5 170.7L398.7 174.8L412.4 172.3L419.2 170.7L426.1 162.5L429.5 154.3L439.7 146.1L453.4 151.6L460.2 154.3L467.1 162.5L473.9 154.3L480.7 151.6L494.4 146.1L508.1 150.2L514.9 154.3L521.7 156.4L528.6 154.3L535.4 151.6L549.1 144.1L562.7 139.3L576.4 146.1L590.1 148.2L603.7 151.6L617.4 148.2L627.6 154.3L631.1 162.5L634.5 154.3L644.7 148.2L658.4 144.1L672.1 143.8L685.7 142.8L699.4 146.1L713.1 150.2L719.9 154.3L726.7 162.5L733.6 154.3L740.4 150.2L740.4 154.3L740.4 162.5L733.6 170.7L737.0 187.1L740.4 189.8L740.4 195.3L730.1 187.1L726.7 178.9L713.1 174.8L706.2 170.7L699.4 166.6L698.4 170.7L685.7 182.5L672.1 183.7L658.4 178.9L644.7 176.8L631.1 174.8L617.4 180.2L603.7 174.8L590.1 178.9L583.2 187.1L576.4 191.2L562.7 192.5L549.1 189.8L542.2 187.1L535.4 184.3L521.7 185.0L514.9 187.1L521.7 191.2L528.3 203.5L531.3 219.8L521.7 229.4L510.3 236.2L508.1 240.3L497.8 252.6L496.9 269.0L494.4 277.2L487.6 285.4L480.7 293.6L473.9 301.8L467.1 305.0L460.2 301.8L463.7 285.4L453.4 277.2L439.7 281.3L432.9 285.4L426.1 288.1L412.4 288.1L403.9 301.8L398.7 314.1L396.5 318.1L386.8 334.5L389.2 350.9L386.9 367.3L385.1 371.4L382.5 367.3L379.0 350.9L382.2 334.5L378.2 318.1L371.4 310.0L357.7 304.5L354.3 301.8L344.1 293.6L333.8 285.4L330.4 281.3L323.6 269.0L316.7 256.7L313.3 252.6L303.1 240.3L300.8 236.2L300.8 219.8L294.3 203.5L294.3 187.1L296.2 170.7L289.4 162.5L282.6 170.7L275.7 173.4L262.1 176.8L251.8 170.7L248.4 162.5L241.6 170.7L234.7 173.4L221.1 173.4L214.2 170.7L214.2 154.3L221.1 150.2L231.3 137.9L227.9 121.5L234.7 113.3L237.0 121.5L238.2 137.9L248.4 150.2L258.7 137.9L262.1 134.2L272.6 121.5L275.7 117.4L286.0 105.2L286.0 88.8L289.4 80.6L296.2 72.4ZM296.2 88.8L303.1 97.0L306.5 88.8L303.1 80.6ZM282.6 121.5L289.4 125.6L296.2 121.5L289.4 113.3ZM282.6 137.9L289.4 146.1L296.2 137.9L289.4 133.8ZM306.5 137.9L305.3 154.3L305.3 170.7L303.1 172.7L296.2 187.1L296.2 203.5L303.1 217.8L305.3 219.8L309.9 236.2L316.7 244.4L320.1 252.6L328.1 269.0L330.4 273.1L340.7 285.4L344.1 288.1L357.7 299.0L361.1 301.8L371.4 306.7L381.0 318.1L385.1 330.4L391.9 318.1L398.7 305.9L400.4 301.8L410.7 285.4L412.4 282.7L426.1 281.3L439.7 273.1L453.4 271.7L467.1 277.2L473.9 269.0L473.9 252.6L480.7 244.4L494.4 248.5L504.7 236.2L508.1 232.1L521.7 226.7L528.6 219.8L523.9 203.5L521.7 199.4L508.1 195.3L506.4 187.1L508.1 178.9L521.7 180.9L535.4 178.9L549.1 184.3L562.7 183.0L576.4 183.0L586.7 170.7L590.1 162.5L596.9 154.3L590.1 152.3L576.4 149.4L562.7 142.0L549.1 148.2L538.8 154.3L535.4 158.4L521.7 160.5L508.1 162.5L501.2 154.3L494.4 151.6L487.6 154.3L480.7 158.4L470.5 170.7L467.1 174.8L460.2 170.7L453.4 162.5L446.6 154.3L439.7 151.6L436.3 154.3L432.9 170.7L426.1 172.3L412.4 175.6L398.7 177.5L385.1 174.8L378.2 170.7L371.4 166.6L357.7 156.4L344.1 164.5L330.4 162.5L328.1 154.3L321.9 137.9L316.7 129.7ZM353.6 137.9L357.7 150.2L362.9 137.9L357.7 125.6ZM227.9 154.3L234.7 162.5L241.6 154.3L234.7 146.1ZM255.2 154.3L258.7 170.7L262.1 172.7L268.9 170.7L268.9 154.3L262.1 146.1ZM610.6 154.3L606.0 170.7L617.4 177.5L628.8 170.7L620.8 154.3L617.4 152.3ZM641.3 154.3L637.9 170.7L644.7 172.7L658.4 175.6L672.1 182.3L685.7 180.7L696.5 170.7L699.4 158.4L706.2 154.3L699.4 151.6L685.7 146.1L672.1 146.1L658.4 148.2L644.7 152.3ZM383.1 350.9L385.1 359.1L386.4 350.9L385.1 342.7ZM357.7 64.2L360.5 72.4L360.4 88.8L357.7 97.0L354.3 88.8L354.3 72.4ZM603.7 68.3L610.6 72.4L610.6 88.8L603.7 92.9L590.1 92.9L579.8 105.2L576.4 107.9L562.7 108.3L560.5 105.2L562.7 101.1L573.0 88.8L576.4 84.7L590.1 80.6L596.9 72.4ZM221.1 102.4L227.9 105.2L221.1 113.3L217.7 105.2ZM98.1 117.4L104.9 121.5L111.7 129.7L115.2 137.9L111.7 146.1L104.9 154.3L98.1 158.4L94.7 154.3L84.4 142.0L84.4 137.9L84.4 129.7L91.2 121.5ZM87.8 137.9L98.1 150.2L108.3 137.9L98.1 125.6ZM412.4 129.7L415.8 137.9L412.4 146.1L409.0 137.9ZM139.1 140.7L152.7 140.7L166.4 150.2L169.8 154.3L166.4 158.4L152.7 168.0L139.1 168.0L127.7 154.3ZM132.2 154.3L139.1 162.5L152.7 162.5L163.0 154.3L152.7 146.1L139.1 146.1ZM603.7 199.4L606.0 203.5L603.7 207.6L600.3 203.5ZM494.4 211.7L497.8 219.8L494.4 223.9L487.6 219.8ZM535.4 260.8L542.2 269.0L538.8 285.4L535.4 289.5L533.1 285.4L533.1 269.0ZM426.1 315.4L439.7 311.5L453.4 310.0L456.1 318.1L465.4 334.5L467.1 336.2L480.7 344.8L494.4 348.2L501.2 350.9L508.1 355.0L518.3 367.3L521.7 375.5L525.1 367.3L535.4 361.2L549.1 363.2L562.7 359.1L569.6 350.9L576.4 346.8L590.1 346.8L596.9 350.9L596.9 367.3L590.1 371.4L584.9 383.7L586.0 400.1L576.4 414.4L562.7 402.8L554.2 416.5L562.7 424.6L576.4 424.6L578.7 432.8L576.4 441.0L562.7 446.5L549.1 446.8L538.8 449.2L535.4 452.0L528.6 449.2L521.7 447.6L508.1 435.6L505.8 432.8L505.8 416.5L508.1 408.3L521.7 406.2L535.4 402.8L542.2 400.1L535.4 391.9L521.7 387.8L514.9 383.7L508.1 379.6L501.2 383.7L494.4 387.8L480.7 386.4L467.1 386.4L453.4 386.4L439.7 386.4L436.3 383.7L426.1 375.5L419.2 367.3L412.4 361.2L406.7 350.9L412.4 337.3L415.8 334.5L423.8 318.1ZM432.9 318.1L439.7 326.3L442.0 334.5L442.0 350.9L442.0 367.3L453.4 381.0L467.1 381.0L480.7 375.5L494.4 381.6L508.1 371.4L511.5 367.3L508.1 363.2L494.4 353.0L487.6 350.9L480.7 348.9L467.1 339.4L461.9 334.5L453.4 320.9L446.6 318.1L439.7 315.9ZM422.7 334.5L412.4 342.7L409.0 350.9L412.4 357.1L423.8 367.3L426.1 370.0L432.9 367.3L438.4 350.9L432.9 334.5L426.1 326.3ZM532.0 367.3L535.4 375.5L542.2 367.3L535.4 365.3ZM569.6 367.3L566.1 383.7L565.0 400.1L576.4 410.3L583.2 400.1L581.5 383.7L583.2 367.3L576.4 359.1ZM511.5 416.5L509.8 432.8L521.7 444.3L535.4 448.4L549.1 445.1L562.7 441.0L573.0 432.8L562.7 427.9L550.8 416.5L549.1 408.3L535.4 408.3L521.7 410.3ZM111.7 331.8L118.6 334.5L111.7 337.3L104.9 334.5ZM631.1 348.2L637.9 350.9L631.1 353.6L624.2 350.9ZM658.4 342.7L660.7 350.9L658.4 353.6L651.6 350.9ZM398.7 396.0L401.0 400.1L412.4 413.7L415.8 416.5L426.1 428.7L429.5 432.8L439.7 439.0L451.1 449.2L453.4 457.4L456.8 465.6L467.1 477.9L470.5 482.0L480.7 486.9L494.4 492.2L508.1 495.6L514.9 498.4L521.7 506.6L528.6 514.8L521.7 518.9L508.1 518.9L494.4 525.0L480.7 529.8L473.9 531.1L473.9 547.5L480.7 555.7L487.6 563.9L480.7 566.6L467.1 570.1L453.4 570.1L439.7 572.1L426.1 568.0L423.0 563.9L426.1 555.7L439.7 551.6L446.6 547.5L446.6 531.1L439.7 523.0L432.9 514.8L426.1 506.6L423.3 498.4L420.4 482.0L415.4 465.6L412.4 463.1L398.7 457.4L396.5 449.2L398.7 445.1L403.9 432.8L398.7 426.7L390.2 416.5L391.9 400.1ZM393.6 416.5L398.7 422.6L409.0 416.5L398.7 404.2ZM407.3 432.8L400.1 449.2L412.4 460.6L418.5 465.6L422.7 482.0L426.1 494.3L432.9 498.4L439.7 506.6L453.4 512.0L456.8 514.8L467.1 527.1L480.7 527.1L494.4 520.9L504.7 514.8L501.2 498.4L494.4 496.3L480.7 490.2L467.1 484.0L460.2 482.0L453.4 473.8L450.0 465.6L446.6 449.2L439.7 443.1L426.1 434.2L422.7 432.8L412.4 420.6ZM432.9 563.9L439.7 566.6L453.4 566.0L467.1 566.0L473.9 563.9L467.1 555.7L453.4 555.7L439.7 559.8ZM330.4 413.2L337.2 416.5L344.1 420.6L350.9 432.8L353.8 449.2L357.7 460.1L361.1 465.6L371.4 473.8L385.1 469.7L395.3 482.0L398.7 490.2L401.5 498.4L402.1 514.8L405.6 531.1L412.4 539.3L419.2 547.5L412.4 551.3L398.7 551.1L385.1 550.9L371.4 550.8L357.7 550.8L344.1 550.8L330.4 550.8L316.7 550.8L303.1 550.9L299.6 547.5L300.3 531.1L303.1 527.1L316.7 518.9L330.4 523.0L344.1 523.0L357.7 523.0L364.6 514.8L357.7 506.6L344.1 506.6L337.2 498.4L333.8 482.0L330.4 473.8L327.6 465.6L323.6 449.2L323.6 432.8L323.6 416.5ZM337.2 432.8L333.8 449.2L333.8 465.6L340.7 482.0L344.1 490.2L350.9 482.0L354.3 465.6L349.9 449.2L346.3 432.8L344.1 428.7ZM364.6 482.0L361.1 498.4L371.4 510.7L385.1 506.6L391.9 498.4L388.5 482.0L385.1 477.9L371.4 479.3ZM309.9 531.1L316.7 539.3L323.6 531.1L316.7 527.1ZM364.6 531.1L371.4 539.3L378.2 531.1L371.4 523.0ZM152.7 446.5L166.4 445.1L180.1 445.1L193.7 445.1L207.4 445.1L221.1 445.1L234.7 445.1L248.4 445.1L262.1 441.0L268.9 449.2L275.7 453.3L286.0 465.6L289.4 473.8L291.7 482.0L289.4 490.2L286.0 498.4L282.6 514.8L275.7 520.2L266.6 531.1L262.1 535.2L248.4 544.8L241.6 547.5L234.7 551.3L221.1 555.5L207.4 555.5L193.7 555.5L180.1 555.5L166.4 555.5L152.7 552.1L145.9 547.5L139.1 539.3L132.2 531.1L135.7 514.8L135.7 498.4L136.3 482.0L139.1 473.8L142.5 465.6L145.9 449.2ZM149.3 465.6L142.5 482.0L142.5 498.4L145.9 514.8L145.9 531.1L152.7 539.3L159.6 547.5L166.4 550.2L180.1 550.2L193.7 550.2L207.4 550.2L221.1 550.2L227.9 547.5L234.7 544.8L248.4 539.3L258.7 531.1L262.1 527.1L272.3 514.8L275.7 506.6L279.1 498.4L286.0 482.0L279.1 465.6L275.7 461.5L262.1 452.0L248.4 453.3L234.7 453.3L221.1 451.3L207.4 450.9L193.7 451.3L180.1 453.3L166.4 453.3L152.7 457.4ZM590.1 479.3L603.7 477.9L617.4 477.9L631.1 471.8L644.7 473.8L658.4 472.4L672.1 473.8L685.7 473.8L699.4 475.8L713.1 475.8L726.7 479.3L740.4 479.3L740.4 482.0L740.4 484.7L726.7 484.0L719.9 482.0L713.1 479.9L699.4 479.9L685.7 477.1L672.1 477.1L658.4 475.2L644.7 477.1L631.1 475.8L620.8 482.0L617.4 490.2L614.0 498.4L617.4 506.6L631.1 510.7L644.7 512.0L658.4 512.7L665.2 514.8L665.2 531.1L665.2 547.5L672.1 549.6L678.9 547.5L678.9 531.1L678.9 514.8L685.7 512.0L692.6 514.8L692.6 531.1L699.4 539.3L702.8 547.5L713.1 559.8L719.9 563.9L726.7 572.1L740.4 572.1L740.4 580.3L726.7 580.3L713.1 580.3L699.4 580.3L692.6 580.3L699.4 577.1L710.4 563.9L699.4 550.7L685.7 550.3L672.1 553.7L658.4 550.3L655.6 547.5L651.6 531.1L644.7 523.0L631.1 517.8L617.4 518.9L603.7 518.3L590.1 518.2L576.4 518.2L562.7 517.5L555.9 514.8L562.7 510.7L576.4 512.0L590.1 511.6L603.7 506.6L607.1 498.4L603.7 490.2L590.1 485.1L583.2 482.0ZM98.1 527.1L104.9 531.1L98.1 535.2L91.2 531.1ZM426.1 523.0L432.9 531.1L426.1 539.3L419.2 531.1ZM740.4 529.1L740.4 531.1L740.4 535.2L733.6 531.1Z"/>
<path fill="#3750c8" d="M303.1 80.6L306.5 88.8L303.1 97.0L296.2 88.8ZM289.4 113.3L296.2 121.5L289.4 125.6L282.6 121.5ZM98.1 125.6L108.3 137.9L98.1 150.2L87.8 137.9ZM94.7 137.9L98.1 142.0L101.5 137.9L98.1 133.8ZM316.7 129.7L321.9 137.9L328.1 154.3L330.4 162.5L344.1 164.5L357.7 156.4L371.4 166.6L378.2 170.7L385.1 174.8L398.7 177.5L412.4 175.6L426.1 172.3L432.9 170.7L436.3 154.3L439.7 151.6L446.6 154.3L453.4 162.5L460.2 170.7L467.1 174.8L470.5 170.7L480.7 158.4L487.6 154.3L494.4 151.6L501.2 154.3L508.1 162.5L521.7 160.5L535.4 158.4L538.8 154.3L549.1 148.2L562.7 142.0L576.4 149.4L590.1 152.3L596.9 154.3L590.1 162.5L586.7 170.7L576.4 183.0L562.7 183.0L549.1 184.3L535.4 178.9L521.7 180.9L508.1 178.9L506.4 187.1L508.1 195.3L521.7 199.4L523.9 203.5L528.6 219.8L521.7 226.7L508.1 232.1L504.7 236.2L494.4 248.5L480.7 244.4L473.9 252.6L473.9 269.0L467.1 277.2L453.4 271.7L439.7 273.1L426.1 281.3L412.4 282.7L410.7 285.4L400.4 301.8L398.7 305.9L391.9 318.1L385.1 330.4L381.0 318.1L371.4 306.7L361.1 301.8L357.7 299.0L344.1 288.1L340.7 285.4L330.4 273.1L328.1 269.0L320.1 252.6L316.7 244.4L309.9 236.2L305.3 219.8L303.1 217.8L296.2 203.5L296.2 187.1L303.1 172.7L305.3 170.7L305.3 154.3L306.5 137.9ZM313.3 137.9L309.9 154.3L309.9 170.7L303.1 176.8L298.2 187.1L298.2 203.5L303.1 213.7L309.9 219.8L316.7 232.1L318.4 236.2L327.0 252.6L330.4 260.8L332.7 269.0L344.1 282.7L347.5 285.4L357.7 293.6L368.0 301.8L371.4 303.4L378.2 301.8L385.1 293.6L398.7 299.0L407.3 285.4L412.4 277.2L426.1 273.1L432.9 269.0L439.7 266.9L453.4 264.9L463.7 252.6L467.1 248.5L477.3 236.2L479.4 219.8L480.7 217.1L492.1 203.5L494.4 200.7L502.9 187.1L494.4 173.4L487.6 170.7L480.7 166.6L477.3 170.7L467.1 183.0L453.4 178.9L439.7 174.8L426.1 175.6L412.4 178.9L398.7 180.2L385.1 183.0L371.4 172.3L369.1 170.7L357.7 160.5L344.1 168.6L337.2 170.7L330.4 172.3L327.0 170.7L323.6 154.3L318.4 137.9L316.7 135.2ZM545.7 154.3L535.4 166.6L521.7 164.5L511.5 170.7L521.7 176.8L535.4 173.4L549.1 178.9L562.7 174.8L576.4 174.8L579.8 170.7L583.2 154.3L576.4 152.7L562.7 144.7L549.1 152.3ZM487.6 219.8L494.4 223.9L497.8 219.8L494.4 211.7ZM504.7 219.8L508.1 223.9L521.7 223.9L525.8 219.8L521.7 207.6L508.1 211.7ZM487.6 236.2L494.4 240.3L497.8 236.2L494.4 232.1ZM383.7 318.1L385.1 322.2L387.3 318.1L385.1 310.0ZM357.7 125.6L362.9 137.9L357.7 150.2L353.6 137.9ZM356.4 137.9L357.7 142.0L359.4 137.9L357.7 133.8ZM139.1 146.1L152.7 146.1L163.0 154.3L152.7 162.5L139.1 162.5L132.2 154.3ZM136.8 154.3L139.1 157.0L152.7 157.0L156.2 154.3L152.7 151.6L139.1 151.6ZM234.7 146.1L241.6 154.3L234.7 162.5L227.9 154.3ZM262.1 146.1L268.9 154.3L268.9 170.7L262.1 172.7L258.7 170.7L255.2 154.3ZM617.4 152.3L620.8 154.3L628.8 170.7L617.4 177.5L606.0 170.7L610.6 154.3ZM610.6 170.7L617.4 174.8L624.2 170.7L617.4 158.4ZM644.7 152.3L658.4 148.2L672.1 146.1L685.7 146.1L699.4 151.6L706.2 154.3L699.4 158.4L696.5 170.7L685.7 180.7L672.1 182.3L658.4 175.6L644.7 172.7L637.9 170.7L641.3 154.3ZM651.6 154.3L651.6 170.7L658.4 172.3L672.1 180.9L685.7 178.9L694.5 170.7L696.0 154.3L685.7 149.4L672.1 148.5L658.4 152.3ZM740.4 162.5L740.4 170.7L740.4 187.1L740.4 189.8L737.0 187.1L733.6 170.7ZM453.4 195.3L455.7 203.5L453.4 205.5L451.7 203.5ZM439.7 315.9L446.6 318.1L453.4 320.9L461.9 334.5L467.1 339.4L480.7 348.9L487.6 350.9L494.4 353.0L508.1 363.2L511.5 367.3L508.1 371.4L494.4 381.6L480.7 375.5L467.1 381.0L453.4 381.0L442.0 367.3L442.0 350.9L442.0 334.5L439.7 326.3L432.9 318.1ZM446.6 334.5L446.6 350.9L446.6 367.3L453.4 375.5L467.1 375.5L477.3 367.3L478.5 350.9L467.1 342.7L458.5 334.5L453.4 326.3ZM483.0 367.3L494.4 377.5L505.8 367.3L494.4 357.1ZM426.1 326.3L432.9 334.5L438.4 350.9L432.9 367.3L426.1 370.0L423.8 367.3L412.4 357.1L409.0 350.9L412.4 342.7L422.7 334.5ZM411.3 350.9L412.4 353.0L426.1 365.3L435.6 350.9L426.1 336.6L412.4 348.2ZM385.1 342.7L386.4 350.9L385.1 359.1L383.1 350.9ZM535.4 365.3L542.2 367.3L535.4 375.5L532.0 367.3ZM576.4 359.1L583.2 367.3L581.5 383.7L583.2 400.1L576.4 410.3L565.0 400.1L566.1 383.7L569.6 367.3ZM573.0 383.7L569.6 400.1L576.4 406.2L580.5 400.1L578.1 383.7L576.4 375.5ZM398.7 404.2L409.0 416.5L398.7 422.6L393.6 416.5ZM397.0 416.5L398.7 418.5L402.1 416.5L398.7 412.4ZM521.7 410.3L535.4 408.3L549.1 408.3L550.8 416.5L562.7 427.9L573.0 432.8L562.7 441.0L549.1 445.1L535.4 448.4L521.7 444.3L509.8 432.8L511.5 416.5ZM518.3 416.5L513.2 432.8L521.7 441.0L535.4 446.8L549.1 443.5L562.7 435.6L566.1 432.8L562.7 431.2L549.1 417.6L542.2 416.5L535.4 413.7L521.7 414.4ZM344.1 428.7L346.3 432.8L349.9 449.2L354.3 465.6L350.9 482.0L344.1 490.2L340.7 482.0L333.8 465.6L333.8 449.2L337.2 432.8ZM340.7 449.2L340.7 465.6L344.1 473.8L347.5 465.6L346.0 449.2L344.1 441.0ZM412.4 420.6L422.7 432.8L426.1 434.2L439.7 443.1L446.6 449.2L450.0 465.6L453.4 473.8L460.2 482.0L467.1 484.0L480.7 490.2L494.4 496.3L501.2 498.4L504.7 514.8L494.4 520.9L480.7 527.1L467.1 527.1L456.8 514.8L453.4 512.0L439.7 506.6L432.9 498.4L426.1 494.3L422.7 482.0L418.5 465.6L412.4 460.6L400.1 449.2L407.3 432.8ZM410.7 432.8L402.8 449.2L412.4 458.0L421.5 465.6L424.9 482.0L426.1 486.1L439.7 494.3L443.1 498.4L453.4 506.6L463.7 514.8L467.1 518.9L480.7 524.3L494.4 516.8L497.8 514.8L494.4 506.6L491.0 498.4L480.7 493.5L467.1 488.1L453.4 486.1L450.0 482.0L443.1 465.6L442.0 449.2L439.7 447.2L426.1 436.9L415.8 432.8L412.4 428.7ZM152.7 457.4L166.4 453.3L180.1 453.3L193.7 451.3L207.4 450.9L221.1 451.3L234.7 453.3L248.4 453.3L262.1 452.0L275.7 461.5L279.1 465.6L286.0 482.0L279.1 498.4L275.7 506.6L272.3 514.8L262.1 527.1L258.7 531.1L248.4 539.3L234.7 544.8L227.9 547.5L221.1 550.2L207.4 550.2L193.7 550.2L180.1 550.2L166.4 550.2L159.6 547.5L152.7 539.3L145.9 531.1L145.9 514.8L142.5 498.4L142.5 482.0L149.3 465.6ZM159.6 465.6L152.7 473.8L149.3 482.0L149.3 498.4L152.7 506.6L155.0 514.8L155.0 531.1L166.4 544.8L180.1 546.2L193.7 545.5L207.4 545.5L221.1 544.8L234.7 539.3L248.4 533.9L251.8 531.1L262.1 518.9L265.5 514.8L272.3 498.4L275.7 490.2L279.1 482.0L275.7 473.8L272.3 465.6L262.1 457.4L248.4 461.5L234.7 461.5L221.1 455.4L207.4 454.1L193.7 455.4L180.1 461.5L166.4 461.5ZM371.4 479.3L385.1 477.9L388.5 482.0L391.9 498.4L385.1 506.6L371.4 510.7L361.1 498.4L364.6 482.0ZM368.0 498.4L371.4 502.5L378.2 498.4L371.4 490.2ZM631.1 475.8L644.7 477.1L658.4 475.2L672.1 477.1L685.7 477.1L699.4 479.9L713.1 479.9L719.9 482.0L726.7 484.0L740.4 484.7L740.4 490.2L726.7 488.1L713.1 484.7L699.4 486.1L692.6 482.0L685.7 480.4L672.1 480.4L658.4 477.9L644.7 480.4L631.1 479.9L627.6 482.0L624.2 498.4L631.1 502.5L644.7 506.6L658.4 508.6L672.1 510.7L685.7 506.6L699.4 510.7L706.2 514.8L706.2 531.1L709.6 547.5L713.1 551.6L719.9 547.5L719.9 531.1L726.7 527.1L740.4 525.0L740.4 529.1L733.6 531.1L740.4 535.2L740.4 543.4L733.6 547.5L740.4 555.7L740.4 563.9L740.4 572.1L726.7 572.1L719.9 563.9L713.1 559.8L702.8 547.5L699.4 539.3L692.6 531.1L692.6 514.8L685.7 512.0L678.9 514.8L678.9 531.1L678.9 547.5L672.1 549.6L665.2 547.5L665.2 531.1L665.2 514.8L658.4 512.7L644.7 512.0L631.1 510.7L617.4 506.6L614.0 498.4L617.4 490.2L620.8 482.0ZM316.7 527.1L323.6 531.1L316.7 539.3L309.9 531.1ZM371.4 523.0L378.2 531.1L371.4 539.3L364.6 531.1ZM439.7 559.8L453.4 555.7L467.1 555.7L473.9 563.9L467.1 566.0L453.4 566.0L439.7 566.6L432.9 563.9Z"/>
<path fill="#4678d7" d="M98.1 133.8L101.5 137.9L98.1 142.0L94.7 137.9ZM316.7 135.2L318.4 137.9L323.6 154.3L327.0 170.7L330.4 172.3L337.2 170.7L344.1 168.6L357.7 160.5L369.1 170.7L371.4 172.3L385.1 183.0L398.7 180.2L412.4 178.9L426.1 175.6L439.7 174.8L453.4 178.9L467.1 183.0L477.3 170.7L480.7 166.6L487.6 170.7L494.4 173.4L502.9 187.1L494.4 200.7L492.1 203.5L480.7 217.1L479.4 219.8L477.3 236.2L467.1 248.5L463.7 252.6L453.4 264.9L439.7 266.9L432.9 269.0L426.1 273.1L412.4 277.2L407.3 285.4L398.7 299.0L385.1 293.6L378.2 301.8L371.4 303.4L368.0 301.8L357.7 293.6L347.5 285.4L344.1 282.7L332.7 269.0L330.4 260.8L327.0 252.6L318.4 236.2L316.7 232.1L309.9 219.8L303.1 213.7L298.2 203.5L298.2 187.1L303.1 176.8L309.9 170.7L309.9 154.3L313.3 137.9ZM314.5 154.3L314.5 170.7L303.1 180.9L300.1 187.1L300.1 203.5L303.1 209.6L314.5 219.8L316.7 223.9L321.9 236.2L330.4 249.9L332.7 252.6L337.2 269.0L344.1 277.2L354.3 285.4L357.7 288.1L371.4 293.6L378.2 285.4L385.1 282.7L388.5 285.4L398.7 293.6L403.9 285.4L412.4 271.7L419.2 269.0L426.1 260.8L439.7 262.9L453.4 256.7L456.8 252.6L467.1 240.3L470.5 236.2L476.6 219.8L480.7 211.7L487.6 203.5L494.4 195.3L499.5 187.1L494.4 178.9L480.7 174.8L470.5 187.1L467.1 191.2L460.2 203.5L453.4 209.6L448.3 203.5L446.6 187.1L439.7 183.0L426.1 178.9L412.4 182.2L398.7 183.0L388.5 187.1L385.1 189.1L383.4 187.1L371.4 175.6L364.6 170.7L357.7 164.5L347.5 170.7L344.1 172.1L330.4 175.6L320.1 170.7L319.0 154.3L316.7 146.1ZM451.7 203.5L453.4 205.5L455.7 203.5L453.4 195.3ZM357.7 133.8L359.4 137.9L357.7 142.0L356.4 137.9ZM139.1 151.6L152.7 151.6L156.2 154.3L152.7 157.0L139.1 157.0L136.8 154.3ZM549.1 152.3L562.7 144.7L576.4 152.7L583.2 154.3L579.8 170.7L576.4 174.8L562.7 174.8L549.1 178.9L535.4 173.4L521.7 176.8L511.5 170.7L521.7 164.5L535.4 166.6L545.7 154.3ZM551.3 154.3L549.1 162.5L542.2 170.7L549.1 173.4L555.9 170.7L562.7 168.0L574.1 154.3L562.7 147.5ZM518.3 170.7L521.7 172.7L528.6 170.7L521.7 168.6ZM658.4 152.3L672.1 148.5L685.7 149.4L696.0 154.3L694.5 170.7L685.7 178.9L672.1 180.9L658.4 172.3L651.6 170.7L651.6 154.3ZM661.8 154.3L659.4 170.7L672.1 179.6L685.7 177.1L692.6 170.7L689.1 154.3L685.7 152.7L672.1 150.8ZM617.4 158.4L624.2 170.7L617.4 174.8L610.6 170.7ZM615.1 170.7L617.4 172.1L619.7 170.7L617.4 166.6ZM412.4 211.7L415.8 219.8L412.4 228.0L410.1 219.8ZM508.1 211.7L521.7 207.6L525.8 219.8L521.7 223.9L508.1 223.9L504.7 219.8ZM514.9 219.8L521.7 221.2L523.1 219.8L521.7 215.7ZM385.1 234.2L391.9 236.2L385.1 237.9L384.1 236.2ZM494.4 232.1L497.8 236.2L494.4 240.3L487.6 236.2ZM385.1 310.0L387.3 318.1L385.1 322.2L383.7 318.1ZM453.4 326.3L458.5 334.5L467.1 342.7L478.5 350.9L477.3 367.3L467.1 375.5L453.4 375.5L446.6 367.3L446.6 350.9L446.6 334.5ZM451.1 334.5L451.1 350.9L451.1 367.3L453.4 370.0L467.1 370.0L470.5 367.3L473.9 350.9L467.1 346.0L455.1 334.5L453.4 331.8ZM412.4 348.2L426.1 336.6L435.6 350.9L426.1 365.3L412.4 353.0L411.3 350.9ZM414.7 350.9L426.1 361.2L432.9 350.9L426.1 340.7ZM494.4 357.1L505.8 367.3L494.4 377.5L483.0 367.3ZM487.6 367.3L494.4 373.4L501.2 367.3L494.4 361.2ZM576.4 375.5L578.1 383.7L580.5 400.1L576.4 406.2L569.6 400.1L573.0 383.7ZM574.1 400.1L576.4 402.1L577.8 400.1L576.4 391.9ZM398.7 412.4L402.1 416.5L398.7 418.5L397.0 416.5ZM521.7 414.4L535.4 413.7L542.2 416.5L549.1 417.6L562.7 431.2L566.1 432.8L562.7 435.6L549.1 443.5L535.4 446.8L521.7 441.0L513.2 432.8L518.3 416.5ZM516.6 432.8L521.7 437.8L535.4 445.1L549.1 441.9L561.6 432.8L549.1 420.0L535.4 417.5L521.7 420.6ZM412.4 428.7L415.8 432.8L426.1 436.9L439.7 447.2L442.0 449.2L443.1 465.6L450.0 482.0L453.4 486.1L467.1 488.1L480.7 493.5L491.0 498.4L494.4 506.6L497.8 514.8L494.4 516.8L480.7 524.3L467.1 518.9L463.7 514.8L453.4 506.6L443.1 498.4L439.7 494.3L426.1 486.1L424.9 482.0L421.5 465.6L412.4 458.0L402.8 449.2L410.7 432.8ZM405.6 449.2L412.4 455.5L424.5 465.6L426.1 473.8L432.9 465.6L438.0 449.2L426.1 439.7L412.4 435.6ZM432.9 482.0L439.7 486.1L443.1 482.0L439.7 473.8ZM450.0 498.4L453.4 501.1L467.1 510.7L469.3 514.8L480.7 521.6L492.1 514.8L484.1 498.4L480.7 496.7L467.1 492.2L453.4 494.3ZM344.1 441.0L346.0 449.2L347.5 465.6L344.1 473.8L340.7 465.6L340.7 449.2ZM166.4 461.5L180.1 461.5L193.7 455.4L207.4 454.1L221.1 455.4L234.7 461.5L248.4 461.5L262.1 457.4L272.3 465.6L275.7 473.8L279.1 482.0L275.7 490.2L272.3 498.4L265.5 514.8L262.1 518.9L251.8 531.1L248.4 533.9L234.7 539.3L221.1 544.8L207.4 545.5L193.7 545.5L180.1 546.2L166.4 544.8L155.0 531.1L155.0 514.8L152.7 506.6L149.3 498.4L149.3 482.0L152.7 473.8L159.6 465.6ZM183.5 465.6L180.1 473.8L173.2 482.0L173.2 498.4L166.4 502.5L159.6 514.8L159.6 531.1L166.4 539.3L180.1 543.4L193.7 541.4L207.4 541.4L221.1 539.3L234.7 533.9L241.6 531.1L248.4 527.1L258.7 514.8L262.1 506.6L265.5 498.4L272.3 482.0L265.5 465.6L262.1 462.9L255.2 465.6L248.4 469.7L234.7 469.7L231.3 465.6L221.1 459.5L207.4 457.4L193.7 459.5ZM631.1 479.9L644.7 480.4L658.4 477.9L672.1 480.4L685.7 480.4L692.6 482.0L699.4 486.1L713.1 484.7L726.7 488.1L740.4 490.2L740.4 495.6L726.7 492.2L713.1 490.2L699.4 494.3L685.7 490.2L672.1 490.2L665.2 482.0L658.4 480.6L651.6 482.0L644.7 490.2L637.9 498.4L644.7 501.1L658.4 504.5L672.1 502.5L685.7 501.1L699.4 502.5L713.1 510.7L719.9 514.8L726.7 518.9L740.4 520.9L740.4 525.0L726.7 527.1L719.9 531.1L719.9 547.5L713.1 551.6L709.6 547.5L706.2 531.1L706.2 514.8L699.4 510.7L685.7 506.6L672.1 510.7L658.4 508.6L644.7 506.6L631.1 502.5L624.2 498.4L627.6 482.0ZM371.4 490.2L378.2 498.4L371.4 502.5L368.0 498.4ZM740.4 543.4L740.4 547.5L740.4 555.7L733.6 547.5Z"/>
<path fill="#5096e6" d="M316.7 146.1L319.0 154.3L320.1 170.7L330.4 175.6L344.1 172.1L347.5 170.7L357.7 164.5L364.6 170.7L371.4 175.6L383.4 187.1L385.1 189.1L388.5 187.1L398.7 183.0L412.4 182.2L426.1 178.9L439.7 183.0L446.6 187.1L448.3 203.5L453.4 209.6L460.2 203.5L467.1 191.2L470.5 187.1L480.7 174.8L494.4 178.9L499.5 187.1L494.4 195.3L487.6 203.5L480.7 211.7L476.6 219.8L470.5 236.2L467.1 240.3L456.8 252.6L453.4 256.7L439.7 262.9L426.1 260.8L419.2 269.0L412.4 271.7L403.9 285.4L398.7 293.6L388.5 285.4L385.1 282.7L378.2 285.4L371.4 293.6L357.7 288.1L354.3 285.4L344.1 277.2L337.2 269.0L332.7 252.6L330.4 249.9L321.9 236.2L316.7 223.9L314.5 219.8L303.1 209.6L300.1 203.5L300.1 187.1L303.1 180.9L314.5 170.7L314.5 154.3ZM354.3 170.7L344.1 174.8L330.4 178.9L316.7 173.4L303.1 185.0L302.1 187.1L302.1 203.5L303.1 205.5L316.7 218.2L323.6 219.8L325.3 236.2L330.4 244.4L337.2 252.6L341.8 269.0L344.1 271.7L357.7 277.2L371.4 281.3L385.1 277.2L395.3 285.4L398.7 288.1L400.4 285.4L409.0 269.0L409.0 252.6L398.7 240.3L385.1 241.1L382.1 236.2L385.1 230.1L398.7 232.1L405.6 219.8L409.0 203.5L412.4 195.3L414.7 203.5L422.7 219.8L415.8 236.2L426.1 248.5L429.5 252.6L439.7 258.8L450.0 252.6L453.4 249.9L464.8 236.2L467.1 233.5L473.9 219.8L480.7 206.2L483.0 203.5L494.4 189.8L496.1 187.1L494.4 184.3L480.7 183.0L477.3 187.1L467.1 199.4L464.8 203.5L453.4 213.7L444.9 203.5L439.7 191.2L436.3 187.1L426.1 182.2L412.4 185.4L398.7 185.7L395.3 187.1L385.1 193.2L379.9 187.1L371.4 178.9L360.0 170.7L357.7 168.6ZM410.1 219.8L412.4 228.0L415.8 219.8L412.4 211.7ZM384.1 236.2L385.1 237.9L391.9 236.2L385.1 234.2ZM562.7 147.5L574.1 154.3L562.7 168.0L555.9 170.7L549.1 173.4L542.2 170.7L549.1 162.5L551.3 154.3ZM555.9 154.3L562.7 162.5L569.6 154.3L562.7 150.2ZM672.1 150.8L685.7 152.7L689.1 154.3L692.6 170.7L685.7 177.1L672.1 179.6L659.4 170.7L661.8 154.3ZM668.6 154.3L661.3 170.7L672.1 178.2L685.7 175.2L690.6 170.7L685.7 157.0L678.9 154.3L672.1 153.1ZM521.7 168.6L528.6 170.7L521.7 172.7L518.3 170.7ZM617.4 166.6L619.7 170.7L617.4 172.1L615.1 170.7ZM344.1 218.2L345.2 219.8L344.1 228.0L337.2 219.8ZM521.7 215.7L523.1 219.8L521.7 221.2L514.9 219.8ZM453.4 331.8L455.1 334.5L467.1 346.0L473.9 350.9L470.5 367.3L467.1 370.0L453.4 370.0L451.1 367.3L451.1 350.9L451.1 334.5ZM460.2 350.9L467.1 359.1L469.3 350.9L467.1 349.3ZM426.1 340.7L432.9 350.9L426.1 361.2L414.7 350.9ZM419.2 350.9L426.1 357.1L430.2 350.9L426.1 344.8ZM494.4 361.2L501.2 367.3L494.4 373.4L487.6 367.3ZM492.1 367.3L494.4 369.4L496.7 367.3L494.4 365.3ZM576.4 391.9L577.8 400.1L576.4 402.1L574.1 400.1ZM521.7 420.6L535.4 417.5L549.1 420.0L561.6 432.8L549.1 441.9L535.4 445.1L521.7 437.8L516.6 432.8ZM520.0 432.8L521.7 434.5L535.4 443.5L549.1 440.2L559.3 432.8L549.1 422.3L535.4 419.5L521.7 428.7ZM412.4 435.6L426.1 439.7L438.0 449.2L432.9 465.6L426.1 473.8L424.5 465.6L412.4 455.5L405.6 449.2ZM408.3 449.2L412.4 453.0L426.1 462.9L434.6 449.2L426.1 442.4L412.4 441.0ZM193.7 459.5L207.4 457.4L221.1 459.5L231.3 465.6L234.7 469.7L248.4 469.7L255.2 465.6L262.1 462.9L265.5 465.6L272.3 482.0L265.5 498.4L262.1 506.6L258.7 514.8L248.4 527.1L241.6 531.1L234.7 533.9L221.1 539.3L207.4 541.4L193.7 541.4L180.1 543.4L166.4 539.3L159.6 531.1L159.6 514.8L166.4 502.5L173.2 498.4L173.2 482.0L180.1 473.8L183.5 465.6ZM190.3 465.6L183.5 482.0L186.9 498.4L180.1 501.1L166.4 510.7L164.1 514.8L164.1 531.1L166.4 533.9L180.1 540.7L193.7 537.3L207.4 537.3L221.1 533.9L227.9 531.1L234.7 528.4L248.4 518.9L251.8 514.8L255.2 498.4L262.1 490.2L265.5 482.0L262.1 473.8L248.4 477.9L234.7 477.9L224.5 465.6L221.1 463.6L207.4 460.7L193.7 463.6ZM439.7 473.8L443.1 482.0L439.7 486.1L432.9 482.0ZM658.4 480.6L665.2 482.0L672.1 490.2L685.7 490.2L699.4 494.3L713.1 490.2L726.7 492.2L740.4 495.6L740.4 498.4L740.4 506.6L733.6 514.8L740.4 516.8L740.4 520.9L726.7 518.9L719.9 514.8L713.1 510.7L699.4 502.5L685.7 501.1L672.1 502.5L658.4 504.5L644.7 501.1L637.9 498.4L644.7 490.2L651.6 482.0ZM651.6 498.4L658.4 500.4L665.2 498.4L658.4 490.2ZM706.2 498.4L713.1 502.5L726.7 506.6L733.6 498.4L726.7 496.3L713.1 495.6ZM453.4 494.3L467.1 492.2L480.7 496.7L484.1 498.4L492.1 514.8L480.7 521.6L469.3 514.8L467.1 510.7L453.4 501.1L450.0 498.4ZM460.2 498.4L467.1 502.5L473.9 498.4L467.1 496.3ZM473.9 514.8L480.7 518.9L487.6 514.8L480.7 502.5Z"/>
<path fill="#5ab4f0" d="M562.7 150.2L569.6 154.3L562.7 162.5L555.9 154.3ZM560.5 154.3L562.7 157.0L565.0 154.3L562.7 152.9ZM672.1 153.1L678.9 154.3L685.7 157.0L690.6 170.7L685.7 175.2L672.1 178.2L661.3 170.7L668.6 154.3ZM663.3 170.7L672.1 176.8L685.7 173.4L688.7 170.7L685.7 162.5L672.1 155.9ZM357.7 168.6L360.0 170.7L371.4 178.9L379.9 187.1L385.1 193.2L395.3 187.1L398.7 185.7L412.4 185.4L426.1 182.2L436.3 187.1L439.7 191.2L444.9 203.5L453.4 213.7L464.8 203.5L467.1 199.4L477.3 187.1L480.7 183.0L494.4 184.3L496.1 187.1L494.4 189.8L483.0 203.5L480.7 206.2L473.9 219.8L467.1 233.5L464.8 236.2L453.4 249.9L450.0 252.6L439.7 258.8L429.5 252.6L426.1 248.5L415.8 236.2L422.7 219.8L414.7 203.5L412.4 195.3L409.0 203.5L405.6 219.8L398.7 232.1L385.1 230.1L382.1 236.2L385.1 241.1L398.7 240.3L409.0 252.6L409.0 269.0L400.4 285.4L398.7 288.1L395.3 285.4L385.1 277.2L371.4 281.3L357.7 277.2L344.1 271.7L341.8 269.0L337.2 252.6L330.4 244.4L325.3 236.2L323.6 219.8L316.7 218.2L303.1 205.5L302.1 203.5L302.1 187.1L303.1 185.0L316.7 173.4L330.4 178.9L344.1 174.8L354.3 170.7ZM306.5 187.1L304.8 203.5L316.7 214.9L330.4 215.7L344.1 214.9L347.5 219.8L347.5 236.2L344.1 244.4L341.8 252.6L344.1 260.8L350.9 252.6L357.7 248.5L358.7 252.6L364.6 269.0L371.4 273.1L385.1 271.7L398.7 277.2L402.1 269.0L402.1 252.6L398.7 248.5L385.1 244.4L380.2 236.2L385.1 226.0L398.7 223.9L401.0 219.8L402.1 203.5L398.7 195.3L385.1 197.3L376.5 187.1L371.4 182.2L357.7 172.3L344.1 177.5L330.4 182.2L316.7 178.9ZM419.2 187.1L419.2 203.5L426.1 215.7L432.9 219.8L426.1 228.0L422.7 236.2L426.1 240.3L436.3 252.6L439.7 254.7L443.1 252.6L453.4 244.4L460.2 236.2L467.1 228.0L471.2 219.8L467.1 207.6L453.4 217.8L441.4 203.5L439.7 199.4L429.5 187.1L426.1 185.4ZM337.2 219.8L344.1 228.0L345.2 219.8L344.1 218.2ZM328.7 236.2L330.4 239.0L337.2 236.2L330.4 228.0ZM426.1 344.8L430.2 350.9L426.1 357.1L419.2 350.9ZM423.8 350.9L426.1 353.0L427.4 350.9L426.1 348.9ZM467.1 349.3L469.3 350.9L467.1 359.1L460.2 350.9ZM494.4 365.3L496.7 367.3L494.4 369.4L492.1 367.3ZM521.7 428.7L535.4 419.5L549.1 422.3L559.3 432.8L549.1 440.2L535.4 443.5L521.7 434.5L520.0 432.8ZM522.9 432.8L535.4 441.9L549.1 438.6L557.0 432.8L549.1 424.6L535.4 421.6ZM412.4 441.0L426.1 442.4L434.6 449.2L426.1 462.9L412.4 453.0L408.3 449.2ZM411.0 449.2L412.4 450.5L426.1 457.4L431.2 449.2L426.1 445.1L412.4 446.5ZM193.7 463.6L207.4 460.7L221.1 463.6L224.5 465.6L234.7 477.9L248.4 477.9L262.1 473.8L265.5 482.0L262.1 490.2L255.2 498.4L251.8 514.8L248.4 518.9L234.7 528.4L227.9 531.1L221.1 533.9L207.4 537.3L193.7 537.3L180.1 540.7L166.4 533.9L164.1 531.1L164.1 514.8L166.4 510.7L180.1 501.1L186.9 498.4L183.5 482.0L190.3 465.6ZM200.6 465.6L193.7 473.8L190.3 482.0L193.7 490.2L197.2 498.4L193.7 502.5L180.1 506.6L169.8 514.8L168.7 531.1L180.1 538.0L193.7 533.2L207.4 533.2L214.2 531.1L221.1 527.1L234.7 523.0L245.0 514.8L245.0 498.4L234.7 486.1L231.3 482.0L221.1 469.7L214.2 465.6L207.4 464.0ZM467.1 496.3L473.9 498.4L467.1 502.5L460.2 498.4ZM658.4 490.2L665.2 498.4L658.4 500.4L651.6 498.4ZM713.1 495.6L726.7 496.3L733.6 498.4L726.7 506.6L713.1 502.5L706.2 498.4ZM480.7 502.5L487.6 514.8L480.7 518.9L473.9 514.8ZM478.5 514.8L480.7 516.1L483.0 514.8L480.7 510.7ZM740.4 506.6L740.4 514.8L740.4 516.8L733.6 514.8Z"/>
<path fill="#82d2fa" d="M562.7 152.9L565.0 154.3L562.7 157.0L560.5 154.3ZM672.1 155.9L685.7 162.5L688.7 170.7L685.7 173.4L672.1 176.8L663.3 170.7ZM665.2 170.7L672.1 175.5L685.7 171.6L686.7 170.7L685.7 168.0L672.1 159.2ZM316.7 178.9L330.4 182.2L344.1 177.5L357.7 172.3L371.4 182.2L376.5 187.1L385.1 197.3L398.7 195.3L402.1 203.5L401.0 219.8L398.7 223.9L385.1 226.0L380.2 236.2L385.1 244.4L398.7 248.5L402.1 252.6L402.1 269.0L398.7 277.2L385.1 271.7L371.4 273.1L364.6 269.0L358.7 252.6L357.7 248.5L350.9 252.6L344.1 260.8L341.8 252.6L344.1 244.4L347.5 236.2L347.5 219.8L344.1 214.9L330.4 215.7L316.7 214.9L304.8 203.5L306.5 187.1ZM313.3 187.1L308.2 203.5L316.7 211.7L330.4 207.6L344.1 211.7L349.8 219.8L354.3 236.2L357.7 240.3L360.7 252.6L371.4 267.6L385.1 264.9L395.3 252.6L385.1 247.7L378.2 236.2L385.1 221.9L391.9 219.8L391.9 203.5L385.1 201.4L373.1 187.1L371.4 185.4L357.7 175.6L344.1 180.2L330.4 185.4L316.7 184.3ZM426.1 185.4L429.5 187.1L439.7 199.4L441.4 203.5L453.4 217.8L467.1 207.6L471.2 219.8L467.1 228.0L460.2 236.2L453.4 244.4L443.1 252.6L439.7 254.7L436.3 252.6L426.1 240.3L422.7 236.2L426.1 228.0L432.9 219.8L426.1 215.7L419.2 203.5L419.2 187.1ZM423.8 203.5L426.1 207.6L432.9 203.5L426.1 195.3ZM460.2 219.8L467.1 222.6L468.4 219.8L467.1 215.7ZM432.9 236.2L439.7 244.4L453.4 239.0L455.7 236.2L453.4 228.0L439.7 228.0ZM330.4 228.0L337.2 236.2L330.4 239.0L328.7 236.2ZM426.1 348.9L427.4 350.9L426.1 353.0L423.8 350.9ZM535.4 421.6L549.1 424.6L557.0 432.8L549.1 438.6L535.4 441.9L522.9 432.8ZM525.1 432.8L535.4 440.2L549.1 436.9L554.8 432.8L549.1 427.0L535.4 423.6ZM412.4 446.5L426.1 445.1L431.2 449.2L426.1 457.4L412.4 450.5L411.0 449.2ZM419.2 449.2L426.1 452.0L427.8 449.2L426.1 447.9ZM207.4 464.0L214.2 465.6L221.1 469.7L231.3 482.0L234.7 486.1L245.0 498.4L245.0 514.8L234.7 523.0L221.1 527.1L214.2 531.1L207.4 533.2L193.7 533.2L180.1 538.0L168.7 531.1L169.8 514.8L180.1 506.6L193.7 502.5L197.2 498.4L193.7 490.2L190.3 482.0L193.7 473.8L200.6 465.6ZM200.6 482.0L204.0 498.4L193.7 510.7L180.1 512.0L176.7 514.8L173.2 531.1L180.1 535.2L190.3 531.1L193.7 523.0L207.4 523.0L221.1 518.9L234.7 517.5L238.2 514.8L238.2 498.4L234.7 494.3L224.5 482.0L221.1 477.9L207.4 473.8ZM480.7 510.7L483.0 514.8L480.7 516.1L478.5 514.8Z"/>
<path fill="#aaebfa" d="M672.1 159.2L685.7 168.0L686.7 170.7L685.7 171.6L672.1 175.5L665.2 170.7ZM667.2 170.7L672.1 174.1L683.5 170.7L672.1 162.5ZM316.7 184.3L330.4 185.4L344.1 180.2L357.7 175.6L371.4 185.4L373.1 187.1L385.1 201.4L391.9 203.5L391.9 219.8L385.1 221.9L378.2 236.2L385.1 247.7L395.3 252.6L385.1 264.9L371.4 267.6L360.7 252.6L357.7 240.3L354.3 236.2L349.8 219.8L344.1 211.7L330.4 207.6L316.7 211.7L308.2 203.5L313.3 187.1ZM333.8 187.1L333.8 203.5L344.1 208.4L352.0 219.8L357.7 233.5L360.0 236.2L362.6 252.6L371.4 264.9L385.1 256.7L388.5 252.6L385.1 251.0L376.3 236.2L381.7 219.8L383.4 203.5L371.4 189.1L369.1 187.1L357.7 178.9L344.1 183.0ZM311.6 203.5L316.7 208.4L327.0 203.5L316.7 191.2ZM426.1 195.3L432.9 203.5L426.1 207.6L423.8 203.5ZM467.1 215.7L468.4 219.8L467.1 222.6L460.2 219.8ZM439.7 228.0L453.4 228.0L455.7 236.2L453.4 239.0L439.7 244.4L432.9 236.2ZM535.4 423.6L549.1 427.0L554.8 432.8L549.1 436.9L535.4 440.2L525.1 432.8ZM527.4 432.8L535.4 438.6L549.1 435.3L552.5 432.8L549.1 429.3L535.4 425.7ZM426.1 447.9L427.8 449.2L426.1 452.0L419.2 449.2ZM207.4 473.8L221.1 477.9L224.5 482.0L234.7 494.3L238.2 498.4L238.2 514.8L234.7 517.5L221.1 518.9L207.4 523.0L193.7 523.0L190.3 531.1L180.1 535.2L173.2 531.1L176.7 514.8L180.1 512.0L193.7 510.7L204.0 498.4L200.6 482.0ZM210.8 498.4L221.1 510.7L231.3 498.4L221.1 486.1ZM177.8 531.1L180.1 532.5L183.5 531.1L180.1 523.0Z"/>
<path fill="#b4f0dc" d="M672.1 162.5L683.5 170.7L672.1 174.1L667.2 170.7ZM669.1 170.7L672.1 172.7L678.9 170.7L672.1 165.8ZM344.1 183.0L357.7 178.9L369.1 187.1L371.4 189.1L383.4 203.5L381.7 219.8L376.3 236.2L385.1 251.0L388.5 252.6L385.1 256.7L371.4 264.9L362.6 252.6L360.0 236.2L357.7 233.5L352.0 219.8L344.1 208.4L333.8 203.5L333.8 187.1ZM340.7 187.1L340.7 203.5L344.1 205.1L354.3 219.8L357.7 228.0L364.6 236.2L364.6 252.6L371.4 262.2L383.4 252.6L374.3 236.2L374.8 219.8L379.9 203.5L371.4 193.2L364.6 187.1L357.7 182.2L344.1 185.7ZM316.7 191.2L327.0 203.5L316.7 208.4L311.6 203.5ZM315.0 203.5L316.7 205.1L320.1 203.5L316.7 199.4ZM535.4 425.7L549.1 429.3L552.5 432.8L549.1 435.3L535.4 438.6L527.4 432.8ZM529.7 432.8L535.4 436.9L549.1 433.7L550.2 432.8L549.1 431.7L535.4 427.7ZM221.1 486.1L231.3 498.4L221.1 510.7L210.8 498.4ZM217.7 498.4L221.1 502.5L224.5 498.4L221.1 494.3ZM180.1 523.0L183.5 531.1L180.1 532.5L177.8 531.1Z"/>
<path fill="#c8fac8" d="M672.1 165.8L678.9 170.7L672.1 172.7L669.1 170.7ZM671.1 170.7L672.1 171.4L674.3 170.7L672.1 169.1ZM344.1 185.7L357.7 182.2L364.6 187.1L371.4 193.2L379.9 203.5L374.8 219.8L374.3 236.2L383.4 252.6L371.4 262.2L364.6 252.6L364.6 236.2L357.7 228.0L354.3 219.8L344.1 205.1L340.7 203.5L340.7 187.1ZM350.9 187.1L345.0 203.5L356.6 219.8L357.7 222.6L364.6 219.8L371.4 215.7L376.5 203.5L371.4 197.3L360.0 187.1L357.7 185.4ZM369.1 236.2L366.5 252.6L371.4 259.4L379.9 252.6L372.4 236.2L371.4 228.0ZM316.7 199.4L320.1 203.5L316.7 205.1L315.0 203.5ZM535.4 427.7L549.1 431.7L550.2 432.8L549.1 433.7L535.4 436.9L529.7 432.8ZM532.0 432.8L535.4 435.3L545.7 432.8L535.4 429.8ZM221.1 494.3L224.5 498.4L221.1 502.5L217.7 498.4Z"/>
<path fill="#b4f5b4" d="M672.1 169.1L674.3 170.7L672.1 171.4L671.1 170.7ZM357.7 185.4L360.0 187.1L371.4 197.3L376.5 203.5L371.4 215.7L364.6 219.8L357.7 222.6L356.6 219.8L345.0 203.5L350.9 187.1ZM347.0 203.5L357.7 218.5L371.4 207.6L373.1 203.5L371.4 201.4L357.7 188.4ZM371.4 228.0L372.4 236.2L379.9 252.6L371.4 259.4L366.5 252.6L369.1 236.2ZM368.5 252.6L371.4 256.7L376.5 252.6L371.4 240.3ZM535.4 429.8L545.7 432.8L535.4 435.3L532.0 432.8ZM534.3 432.8L535.4 433.7L538.8 432.8L535.4 431.8Z"/>
<path fill="#96eb96" d="M357.7 188.4L371.4 201.4L373.1 203.5L371.4 207.6L357.7 218.5L347.0 203.5ZM348.9 203.5L357.7 215.7L370.0 203.5L357.7 191.2ZM371.4 240.3L376.5 252.6L371.4 256.7L368.5 252.6ZM370.4 252.6L371.4 254.0L373.1 252.6L371.4 248.5ZM535.4 431.8L538.8 432.8L535.4 433.7L534.3 432.8Z"/>
<path fill="#78e178" d="M357.7 191.2L370.0 203.5L357.7 215.7L348.9 203.5ZM350.9 203.5L357.7 213.0L367.3 203.5L357.7 193.9ZM371.4 248.5L373.1 252.6L371.4 254.0L370.4 252.6Z"/>
<path fill="#50dc50" d="M357.7 193.9L367.3 203.5L357.7 213.0L350.9 203.5ZM352.9 203.5L357.7 210.3L364.6 203.5L357.7 196.6Z"/>
<path fill="#b4d250" d="M357.7 196.6L364.6 203.5L357.7 210.3L352.9 203.5ZM354.8 203.5L357.7 207.6L361.8 203.5L357.7 199.4Z"/>
<path fill="#f0be64" d="M357.7 199.4L361.8 203.5L357.7 207.6L354.8 203.5ZM356.8 203.5L357.7 204.8L359.1 203.5L357.7 202.1Z"/>
<path fill="#f5a546" d="M357.7 202.1L359.1 203.5L357.7 204.8L356.8 203.5Z"/>
</g>
<g clip-path="url(#mc)" fill="none" stroke="#000" stroke-width="1" stroke-linejoin="round">
<polyline points="317.3,130.1 320.6,130.7 323.3,126.1 327.1,119.6 331.5,115.0 334.8,113.0 339.7,113.0 345.7,109.1 348.4,105.8 351.2,107.1 349.0,112.4 347.3,113.7 349.0,117.6 347.3,118.9 349.0,126.1 351.7,126.8 351.7,118.3 350.1,115.0 356.6,111.7 357.7,107.8 358.8,111.7 366.5,115.6 368.7,118.3 374.7,117.6 383.4,120.9 388.9,117.6 396.0,116.9 402.0,116.9 398.7,118.3 402.0,122.2 406.9,128.1 412.4,132.0 416.2,137.3 420.6,141.2 422.8,142.5 428.8,147.8 434.8,148.4 439.7,147.8 445.7,149.7 451.2,151.7 456.1,156.9 458.3,159.5 461.1,164.1 463.8,174.0 467.1,176.6 467.6,183.8 463.8,188.4 469.8,187.7 475.3,193.0 476.4,196.9 480.7,191.7 485.7,193.0 492.2,196.3 496.6,200.8 498.8,204.1 503.1,202.8 513.0,206.1 522.3,206.1 529.9,211.3 536.5,217.9 540.3,220.5 546.3,221.2 548.0,223.8 549.6,233.6 549.6,240.2 548.0,246.1 545.2,250.6 541.4,255.9 538.1,259.2 534.3,265.7 529.9,272.3 527.7,276.2 527.2,284.1 527.2,291.9 526.1,301.8 523.4,307.0 522.8,315.5 520.1,320.1 516.3,328.6 516.3,331.3 510.8,337.2 504.2,337.2 496.6,339.8 492.2,343.1 487.3,344.4 481.3,349.0 475.3,354.9 474.7,360.7 475.3,368.0 473.6,373.9 468.7,379.1 465.4,386.3 461.6,391.6 455.6,396.8 452.9,403.3 448.5,407.9 446.3,412.5 440.3,415.8 433.2,415.8 428.3,413.2 424.4,412.5 421.1,409.2 420.6,412.5 421.1,413.8 427.7,418.4 426.6,422.4 430.4,425.6 429.9,429.6 426.1,436.1 419.5,440.0 412.4,441.4 404.7,442.7 399.8,441.4 400.9,447.9 399.8,453.2 393.8,456.4 385.6,454.5 384.0,456.4 386.2,462.3 392.7,466.9 388.9,468.2 385.1,470.9 383.4,478.7 377.4,482.0 371.4,487.9 370.9,491.2 375.8,495.1 380.7,496.4 379.6,502.3 371.9,508.2 368.7,515.4 362.7,519.4 362.1,525.2 366.5,529.8 360.5,529.2 355.0,532.5 349.5,536.4 346.8,538.4 341.3,534.4 334.8,530.5 331.5,523.9 329.3,514.8 327.7,505.6 328.8,499.0 332.6,493.8 328.2,488.5 333.1,485.3 337.0,482.0 338.6,474.8 336.4,471.5 335.9,464.3 337.5,461.0 336.4,455.8 339.1,447.9 338.6,436.1 338.1,431.5 340.8,427.6 343.5,419.7 345.7,416.5 348.4,408.6 349.0,403.3 350.1,396.8 349.0,388.9 350.6,383.0 349.5,375.2 352.8,367.3 354.5,359.4 355.0,350.9 355.5,341.7 356.6,331.3 356.6,319.5 356.1,308.3 350.1,303.1 344.1,297.2 339.7,294.6 330.4,288.0 324.9,281.4 323.3,278.2 320.6,269.0 318.4,265.1 315.6,257.9 312.9,252.6 308.5,240.8 303.6,231.6 297.6,226.4 296.5,221.2 296.0,215.3 300.9,210.0 303.6,204.1 301.4,204.1 298.1,201.5 299.8,193.6 300.9,189.0 302.5,183.1 305.3,180.5 309.1,176.6 309.6,175.3 312.4,170.0 317.3,163.5 318.9,161.5 316.7,155.6 317.8,149.7 317.3,144.5 314.5,139.9 311.8,134.0 312.9,131.4 308.5,128.7 305.3,128.7 300.9,133.3 300.3,139.2 297.1,136.0 293.8,134.0 287.2,132.7 283.4,131.4 283.4,127.4 277.4,123.5 275.2,124.2 271.4,120.2 271.9,115.0 267.5,110.4 263.2,103.8 261.5,101.2 260.4,99.3 256.6,100.6 251.1,98.6 245.1,96.0 240.7,96.0 235.8,92.0 230.9,86.1 226.5,82.2 222.7,80.9 220.0,80.9 212.9,84.2 207.4,82.2 201.4,78.9 194.3,77.0 188.3,73.7 183.3,69.8 178.4,68.5 174.6,67.1 170.2,61.9 164.8,56.0 163.7,52.7"/>
<polyline points="317.3,130.1 314.5,126.1 309.1,124.8 303.6,125.5 298.1,128.7 293.2,127.4 290.5,125.5 286.7,121.5 283.4,115.6 282.8,111.1 283.9,105.8 283.9,98.6 285.6,88.8 281.2,83.5 275.7,82.2 270.3,82.9 262.1,83.5 258.2,84.2 256.1,82.9 257.7,78.9 257.7,71.7 258.8,65.8 260.4,59.9 262.1,54.7 264.8,49.4"/>
<polyline points="246.2,49.4 246.2,54.0 245.1,58.0 243.5,62.6 240.2,65.2 233.6,65.2 226.5,67.8 222.2,65.8 216.7,63.9 214.0,59.9 211.2,54.0 209.0,50.8"/>
<polyline points="312.4,66.5 314.5,65.8 320.0,66.5 323.8,69.1 320.6,69.8 318.4,71.1 314.0,67.8 312.4,66.5"/>
<polyline points="333.7,66.5 341.9,66.5 342.4,58.0 348.4,57.3 357.7,58.6 362.1,60.6 366.5,65.2 363.2,66.5 357.7,67.8 351.2,71.1 346.8,68.5 339.1,67.8 333.7,66.5"/>
<polyline points="373.0,65.8 381.2,66.5 381.8,69.1 374.7,69.8 373.0,65.8"/>
<polyline points="334.8,54.7 327.7,56.7 316.7,56.7 318.4,52.1 312.9,50.1 309.6,45.5"/>
<polyline points="402.0,116.3 407.5,116.3 406.9,120.9 402.0,120.9 402.0,116.3"/>
<polyline points="240.2,188.4 242.9,193.6 247.3,193.0 252.2,192.3 248.4,188.4 244.0,185.8 240.2,188.4"/>
<polyline points="365.4,531.8 367.6,536.4 370.9,540.3 376.9,543.6 384.0,545.6 376.9,547.5 367.6,547.5 360.5,548.8 355.0,547.5 347.9,542.9 345.2,538.4 353.4,535.7 357.7,533.1 365.4,531.8"/>
<polyline points="405.3,523.3 413.5,522.6 421.7,523.9 425.0,525.9 420.1,529.2 414.0,528.5 408.0,527.2 405.3,523.3"/>
<polyline points="652.4,56.0 651.3,62.6 652.9,69.1 650.2,78.9 648.0,87.5 644.7,90.7 648.6,96.6 649.1,105.8 651.8,109.1 656.2,113.0 660.0,117.6 665.5,124.8 668.2,131.4 672.1,137.9 678.1,141.9 684.1,147.1 689.6,153.0 699.4,158.2 707.6,155.0 715.8,153.0 724.0,153.7 729.5,156.3 734.9,153.7 740.4,150.4"/>
<polyline points="676.7,86.1 712.0,85.5 707.6,56.0"/>
<polyline points="650.7,77.0 664.4,78.9 672.6,85.5 676.7,86.1 674.3,95.3 678.1,105.2 684.1,109.7 692.3,108.4 695.6,119.6 707.1,118.3 710.3,116.3 716.9,115.0 721.8,114.0 725.1,115.0 739.3,115.0"/>
<polyline points="712.0,85.5 710.3,98.6 716.9,101.9 724.8,93.4 739.3,88.8"/>
<polyline points="724.0,121.5 723.2,132.7 724.8,150.7"/>
<polyline points="648.0,105.2 661.1,106.5 665.5,108.4 669.3,105.2 674.3,105.8 678.1,105.2"/>
<polyline points="648.6,97.9 658.4,96.6 664.4,96.6"/>
<polyline points="649.1,101.2 658.4,99.3 664.4,99.3"/>
<polyline points="668.2,127.4 672.6,122.8 679.2,121.5 684.1,132.7 689.0,134.6 695.6,126.1 695.6,119.6"/>
<polyline points="689.0,134.6 693.9,137.9 698.9,157.3"/>
<polyline points="739.3,115.0 740.4,116.3"/>
<polyline points="739.9,115.0 741.5,134.6 743.1,147.8"/>
<polyline points="724.0,121.5 725.1,115.0"/>
<polyline points="236.4,92.0 237.5,88.1 239.1,81.6 246.2,81.6 245.7,70.4 253.3,70.4 257.7,65.8"/>
<polyline points="253.3,70.4 252.8,82.9"/>
<polyline points="247.9,97.3 252.2,92.7 252.8,91.4 258.2,84.2"/>
<polyline points="252.2,92.7 259.3,96.0 260.4,99.3"/>
<polyline points="263.2,102.5 266.4,99.9 271.9,96.0 276.3,90.1 285.6,88.8"/>
<polyline points="271.9,114.3 277.4,115.0 282.8,115.6"/>
<polyline points="287.2,132.7 288.9,124.8"/>
<polyline points="314.5,139.9 317.3,130.1"/>
<polyline points="350.6,109.4 344.1,114.3 341.9,118.9 341.3,126.1 344.6,134.0 344.6,138.6 352.3,141.2 357.2,141.2 361.0,147.1 370.3,146.4 371.4,154.3 369.8,160.9 371.9,168.7 374.1,174.0 374.7,179.2"/>
<polyline points="374.7,179.2 378.0,181.8 382.3,182.5 385.1,178.6 390.5,174.6 389.4,163.5 397.1,160.9 406.9,157.6 409.1,155.0"/>
<polyline points="409.1,155.0 404.7,148.4 406.4,143.2 410.2,139.9 413.5,132.7"/>
<polyline points="409.1,155.0 412.4,153.0 412.9,160.9 414.6,164.8 412.9,171.3 414.0,175.3 419.0,179.2 425.5,175.9 431.5,174.6"/>
<polyline points="431.5,174.6 427.7,168.7 423.3,160.9 427.2,154.3 428.3,147.8"/>
<polyline points="431.5,174.6 439.7,170.7 445.2,172.7 451.2,172.7 454.5,166.1 458.3,159.5"/>
<polyline points="445.2,172.7 443.0,164.1 445.2,154.3 445.2,149.7"/>
<polyline points="374.7,179.2 369.8,174.0 360.5,179.9 357.7,183.1 360.5,187.7 359.9,193.6 358.3,214.6"/>
<polyline points="358.3,214.6 353.9,212.0 346.8,202.8 338.1,194.9 329.3,187.4"/>
<polyline points="329.3,187.4 323.3,184.5 317.3,181.8 309.6,177.9"/>
<polyline points="329.3,187.4 328.2,193.0 321.7,204.1 312.4,209.4 310.2,217.2 305.8,216.6 301.4,214.6 301.4,209.4"/>
<polyline points="358.3,214.6 341.9,221.2 340.2,230.3 337.5,235.6 343.0,244.7 341.9,248.0 354.5,249.3 354.5,259.2 359.9,258.5"/>
<polyline points="359.9,258.5 364.8,269.0 363.7,271.6 361.0,283.4 362.7,287.3 359.9,291.3 363.2,295.9 359.9,300.5 355.5,307.3"/>
<polyline points="359.9,300.5 363.7,311.6 366.5,314.2 364.8,321.4 367.6,328.0 369.2,337.2 373.0,336.5"/>
<polyline points="359.9,258.5 368.7,257.2 376.3,252.0 382.9,251.3 383.4,258.5 388.3,269.0 396.0,271.0 402.6,275.6 409.7,277.5 410.2,286.0 411.3,293.9 421.1,293.9 421.7,300.5 425.5,305.7 422.2,316.8"/>
<polyline points="422.2,316.8 417.3,313.6 402.6,315.5 399.8,321.4 398.2,332.6"/>
<polyline points="398.2,332.6 388.3,336.5 385.1,331.9 378.0,329.9 373.0,336.5"/>
<polyline points="373.0,336.5 374.1,344.4 366.5,347.6 365.4,360.7 363.2,367.3 359.4,374.5 357.7,383.7 357.7,393.5 357.2,403.3 358.3,411.9 355.0,422.4 351.7,429.6 352.8,441.4 349.5,446.6 347.3,451.2 348.4,462.3 349.0,472.2 348.4,479.4 349.0,485.9 346.8,491.8 345.2,497.7 344.1,504.9 339.7,510.2 339.7,518.7 345.2,521.3 346.8,527.2 357.7,527.9 366.5,529.8"/>
<polyline points="398.2,332.6 406.9,340.4 413.5,345.7 420.1,350.9 425.5,353.5 425.5,366.0 434.3,366.6 441.4,364.0 441.9,354.9"/>
<polyline points="422.2,316.8 423.9,324.0 423.9,331.9 431.5,331.9 435.9,334.5 436.5,343.7 444.1,344.4 441.9,354.9"/>
<polyline points="441.9,354.9 447.4,358.8 446.8,364.7 439.7,369.3 434.3,374.5 425.5,385.0"/>
<polyline points="425.5,385.0 436.5,389.6 444.7,396.1 448.5,400.7 447.9,407.9"/>
<polyline points="425.5,385.0 423.3,393.5 422.8,403.3 421.1,409.2"/>
<polyline points="418.4,179.2 420.6,190.4 429.9,202.8 422.2,234.9 421.1,244.7"/>
<polyline points="404.2,244.7 421.1,244.7 431.5,248.7 466.0,251.3"/>
<polyline points="376.3,252.0 382.9,250.6 393.3,238.8 401.5,239.5 404.2,244.7"/>
<polyline points="404.2,244.7 403.7,252.6 411.9,265.1 409.7,277.5"/>
<polyline points="337.0,235.6 357.7,240.2 376.3,252.0"/>
<polyline points="390.5,174.6 393.8,186.4 404.2,195.6 414.0,183.8 418.4,179.2"/>
<polyline points="445.2,172.7 453.4,190.4 460.5,193.6"/>
<polyline points="488.4,194.3 485.7,206.7 479.1,221.8 475.8,221.2"/>
<polyline points="475.8,221.2 471.4,229.7 469.3,239.5 466.0,251.3"/>
<polyline points="475.8,221.2 480.7,228.4 482.9,235.6 486.2,246.1 489.5,253.9"/>
<polyline points="511.9,205.4 507.0,218.5 501.0,228.4 494.4,239.5 489.5,253.9"/>
<polyline points="514.6,206.1 516.3,216.6 516.8,229.7 518.5,235.6"/>
<polyline points="536.5,218.5 529.4,226.4 529.4,232.3"/>
<polyline points="518.5,235.6 526.1,238.2 531.0,234.9"/>
<polyline points="549.1,229.7 540.9,229.7 529.4,229.7"/>
<polyline points="550.2,236.2 538.1,238.2 531.0,238.2"/>
<polyline points="548.0,245.4 535.4,247.4 531.0,247.4 519.0,246.1 515.2,244.7 518.5,235.6"/>
<polyline points="541.4,255.9 532.7,248.7"/>
<polyline points="535.9,262.4 532.7,252.6"/>
<polyline points="515.2,244.7 505.3,252.6 489.5,257.9 488.9,253.9"/>
<polyline points="488.9,257.9 487.3,272.3 490.0,284.7"/>
<polyline points="490.0,284.7 498.8,280.8 516.3,288.0 522.3,304.4"/>
<polyline points="522.3,304.4 517.4,309.0 511.9,321.4 516.3,326.7"/>
<polyline points="516.3,326.7 508.6,331.3 498.8,334.5 495.5,333.9"/>
<polyline points="495.5,333.9 486.2,337.2 481.8,328.0 478.0,318.1 461.6,318.1"/>
<polyline points="495.5,333.9 496.0,339.8"/>
<polyline points="478.0,352.2 470.9,348.3 467.1,337.8 455.6,335.2 450.1,334.5"/>
<polyline points="461.6,318.1 455.6,328.0 450.1,334.5 444.1,344.4"/>
<polyline points="474.7,357.5 464.3,358.8 446.8,359.4"/>
<polyline points="468.7,379.1 461.6,369.9 446.8,364.7"/>
<polyline points="461.6,318.1 466.5,311.6 481.8,308.3 488.9,288.7 490.0,284.7"/>
<polyline points="466.0,271.0 461.6,282.1 453.4,293.9 449.6,301.8 455.6,310.9 461.6,316.2"/>
<polyline points="466.0,271.0 472.5,272.3 481.8,272.3 487.3,272.3"/>
<polyline points="466.0,251.3 463.8,261.1 466.0,271.0"/>
<polyline points="425.5,302.4 439.7,301.8 449.6,301.8"/>
</g>
<g stroke="#aaa" stroke-width="1.4" stroke-dasharray="1.3 5.5" fill="none">
<line x1="139.1" y1="58.0" x2="139.1" y2="580.3"/>
<line x1="193.7" y1="58.0" x2="193.7" y2="580.3"/>
<line x1="248.4" y1="58.0" x2="248.4" y2="580.3"/>
<line x1="303.1" y1="58.0" x2="303.1" y2="580.3"/>
<line x1="357.7" y1="58.0" x2="357.7" y2="580.3"/>
<line x1="412.4" y1="58.0" x2="412.4" y2="580.3"/>
<line x1="467.1" y1="58.0" x2="467.1" y2="580.3"/>
<line x1="521.7" y1="58.0" x2="521.7" y2="580.3"/>
<line x1="576.4" y1="58.0" x2="576.4" y2="580.3"/>
<line x1="631.1" y1="58.0" x2="631.1" y2="580.3"/>
<line x1="685.7" y1="58.0" x2="685.7" y2="580.3"/>
<line x1="86.4" y1="121.5" x2="740.4" y2="121.5"/>
<line x1="86.4" y1="187.1" x2="740.4" y2="187.1"/>
<line x1="86.4" y1="252.6" x2="740.4" y2="252.6"/>
<line x1="86.4" y1="318.1" x2="740.4" y2="318.1"/>
<line x1="86.4" y1="383.7" x2="740.4" y2="383.7"/>
<line x1="86.4" y1="449.2" x2="740.4" y2="449.2"/>
<line x1="86.4" y1="514.8" x2="740.4" y2="514.8"/>
</g>
<rect x="84.4" y="56.0" width="656.0" height="524.3" fill="none" stroke="#000" stroke-width="1.6"/>
<g stroke="#000" stroke-width="1.5">
<line x1="84.4" y1="580.3" x2="84.4" y2="584.3"/>
<line x1="139.1" y1="580.3" x2="139.1" y2="584.3"/>
<line x1="193.7" y1="580.3" x2="193.7" y2="584.3"/>
<line x1="248.4" y1="580.3" x2="248.4" y2="584.3"/>
<line x1="303.1" y1="580.3" x2="303.1" y2="584.3"/>
<line x1="357.7" y1="580.3" x2="357.7" y2="584.3"/>
<line x1="412.4" y1="580.3" x2="412.4" y2="584.3"/>
<line x1="467.1" y1="580.3" x2="467.1" y2="584.3"/>
<line x1="521.7" y1="580.3" x2="521.7" y2="584.3"/>
<line x1="576.4" y1="580.3" x2="576.4" y2="584.3"/>
<line x1="631.1" y1="580.3" x2="631.1" y2="584.3"/>
<line x1="685.7" y1="580.3" x2="685.7" y2="584.3"/>
<line x1="740.4" y1="580.3" x2="740.4" y2="584.3"/>
<line x1="80.4" y1="56.0" x2="84.4" y2="56.0"/>
<line x1="80.4" y1="121.5" x2="84.4" y2="121.5"/>
<line x1="80.4" y1="187.1" x2="84.4" y2="187.1"/>
<line x1="80.4" y1="252.6" x2="84.4" y2="252.6"/>
<line x1="80.4" y1="318.1" x2="84.4" y2="318.1"/>
<line x1="80.4" y1="383.7" x2="84.4" y2="383.7"/>
<line x1="80.4" y1="449.2" x2="84.4" y2="449.2"/>
<line x1="80.4" y1="514.8" x2="84.4" y2="514.8"/>
<line x1="80.4" y1="580.3" x2="84.4" y2="580.3"/>
</g>
<g stroke="#000" stroke-width="1.5">
<rect x="775.0" y="531.25" width="16.0" height="21.25" fill="#5a0096"/>
<rect x="775.0" y="510.00" width="16.0" height="21.25" fill="#3c14a0"/>
<rect x="775.0" y="488.75" width="16.0" height="21.25" fill="#2d28b4"/>
<rect x="775.0" y="467.50" width="16.0" height="21.25" fill="#3750c8"/>
<rect x="775.0" y="446.25" width="16.0" height="21.25" fill="#4678d7"/>
<rect x="775.0" y="425.00" width="16.0" height="21.25" fill="#5096e6"/>
<rect x="775.0" y="403.75" width="16.0" height="21.25" fill="#5ab4f0"/>
<rect x="775.0" y="382.50" width="16.0" height="21.25" fill="#82d2fa"/>
<rect x="775.0" y="361.25" width="16.0" height="21.25" fill="#aaebfa"/>
<rect x="775.0" y="340.00" width="16.0" height="21.25" fill="#b4f0dc"/>
<rect x="775.0" y="318.75" width="16.0" height="21.25" fill="#c8fac8"/>
<rect x="775.0" y="297.50" width="16.0" height="21.25" fill="#b4f5b4"/>
<rect x="775.0" y="276.25" width="16.0" height="21.25" fill="#96eb96"/>
<rect x="775.0" y="255.00" width="16.0" height="21.25" fill="#78e178"/>
<rect x="775.0" y="233.75" width="16.0" height="21.25" fill="#50dc50"/>
<rect x="775.0" y="212.50" width="16.0" height="21.25" fill="#b4d250"/>
<rect x="775.0" y="191.25" width="16.0" height="21.25" fill="#f0be64"/>
<rect x="775.0" y="170.00" width="16.0" height="21.25" fill="#f5a546"/>
<rect x="775.0" y="148.75" width="16.0" height="21.25" fill="#fa8c32"/>
<rect x="775.0" y="127.50" width="16.0" height="21.25" fill="#fa6e23"/>
<rect x="775.0" y="106.25" width="16.0" height="21.25" fill="#f54b1a"/>
<rect x="775.0" y="85.00" width="16.0" height="21.25" fill="#f03214"/>
<polygon points="775.0,85.0 783.0,62.5 791.0,85.0" fill="#ff0000"/>
<polygon points="775.0,552.5 783.0,574.5 791.0,552.5" fill="#fff"/>
</g>
<g font-size="15" fill="#000" font-weight="bold">
<text x="795" y="556.90">0.5</text>
<text x="795" y="535.65">1</text>
<text x="795" y="514.40">2</text>
<text x="795" y="493.15">4</text>
<text x="795" y="471.90">6</text>
<text x="795" y="450.65">8</text>
<text x="795" y="429.40">10</text>
<text x="795" y="408.15">12</text>
<text x="795" y="386.90">14</text>
<text x="795" y="365.65">16</text>
<text x="795" y="344.40">18</text>
<text x="795" y="323.15">20</text>
<text x="795" y="301.90">22</text>
<text x="795" y="280.65">24</text>
<text x="795" y="259.40">26</text>
<text x="795" y="238.15">28</text>
<text x="795" y="216.90">30</text>
<text x="795" y="195.65">32</text>
<text x="795" y="174.40">34</text>
<text x="795" y="153.15">36</text>
<text x="795" y="131.90">38</text>
<text x="795" y="110.65">40</text>
<text x="795" y="89.40">42</text>
</g>
</svg></body></html>
